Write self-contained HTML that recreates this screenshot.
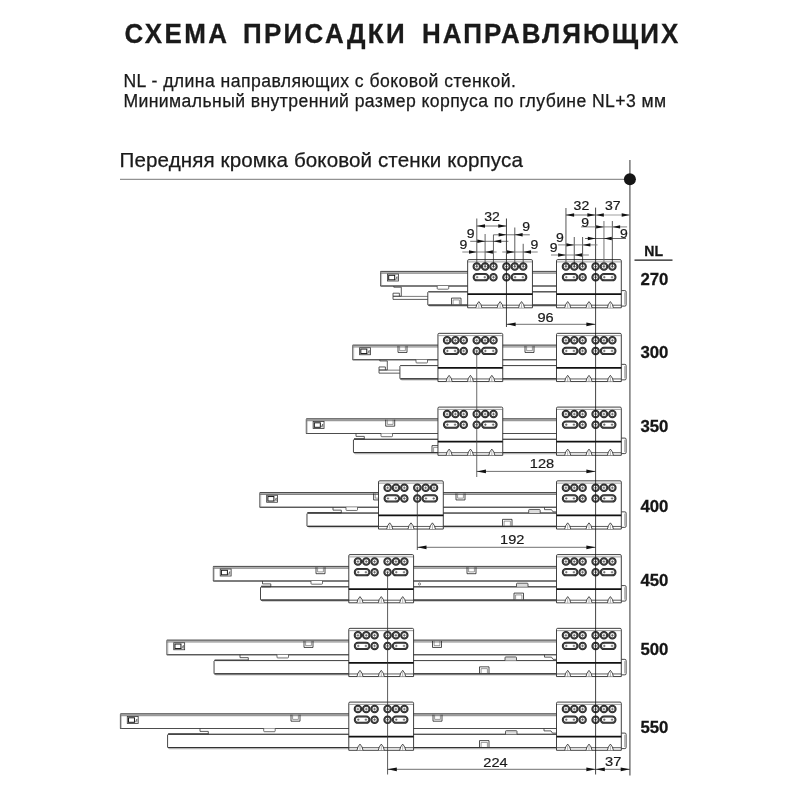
<!DOCTYPE html>
<html lang="ru"><head><meta charset="utf-8"><title>Схема присадки направляющих</title>
<style>html,body{margin:0;padding:0;background:#fff}svg{display:block;will-change:transform;filter:grayscale(1)}</style></head>
<body>
<svg width="800" height="800" viewBox="0 0 800 800" font-family="'Liberation Sans', sans-serif">
<rect width="800" height="800" fill="#fff"/>
<text transform="translate(0,42.8) scale(0.955,1)" font-size="27.2" font-weight="bold" fill="#1a1a1a" stroke="#1a1a1a" stroke-width="0.3"><tspan x="130.34" letter-spacing="2.581">СХЕМА</tspan> <tspan x="254.47" letter-spacing="2.416">ПРИСАДКИ</tspan> <tspan x="441.91" letter-spacing="2.149">НАПРАВЛЯЮЩИХ</tspan></text>
<text transform="translate(123.46,86.60) scale(1,1)" font-size="17.6" font-weight="normal" letter-spacing="0.444" fill="#1a1a1a" stroke="#1a1a1a" stroke-width="0.25">NL - длина направляющих с боковой стенкой.</text>
<text transform="translate(123.46,106.60) scale(1,1)" font-size="17.6" font-weight="normal" letter-spacing="0.404" fill="#1a1a1a" stroke="#1a1a1a" stroke-width="0.25">Минимальный внутренний размер корпуса по глубине NL+3 мм</text>
<text transform="translate(119.61,166.70) scale(1,1)" font-size="20.6" font-weight="normal" letter-spacing="0.092" fill="#1a1a1a" stroke="#1a1a1a" stroke-width="0.25">Передняя кромка боковой стенки корпуса</text>
<line x1="120.00" y1="179.30" x2="629.90" y2="179.30" stroke="#777" stroke-width="1.0" />
<line x1="629.90" y1="160.00" x2="629.90" y2="775.40" stroke="#6e6e6e" stroke-width="1.4" />
<circle cx="629.90" cy="179.2" r="6.0" fill="#161616"/>
<path d="M556.50,291.80 H428.39 L427.79,292.40 V304.70 Q427.79,305.10 428.19,305.10 H556.50" fill="#fff" stroke="#333" stroke-width="0.9" stroke-linejoin="round"/>
<line x1="428.39" y1="291.80" x2="556.50" y2="291.80" stroke="#4d4d4d" stroke-width="1.0" />
<line x1="428.39" y1="305.10" x2="556.50" y2="305.10" stroke="#333" stroke-width="1.3" />
<line x1="429.29" y1="306.40" x2="556.50" y2="306.40" stroke="#999" stroke-width="0.5" />
<path d="M621.30,290.60 H624.90 Q626.10,290.60 626.10,291.80 V304.90 Q626.10,306.10 624.90,306.10 H621.30" fill="#fff" stroke="#333" stroke-width="0.9" stroke-linejoin="round"/>
<line x1="624.50" y1="292.30" x2="624.50" y2="304.60" stroke="#777" stroke-width="0.5" />
<path d="M556.50,271.60 H380.59 V286.00 H556.50" fill="#fff" stroke="#333" stroke-width="0.8" stroke-linejoin="round"/>
<line x1="380.59" y1="271.40" x2="556.50" y2="271.40" stroke="#3a3a3a" stroke-width="0.9" />
<line x1="380.59" y1="273.20" x2="556.50" y2="273.20" stroke="#555" stroke-width="0.8" />
<line x1="380.59" y1="272.30" x2="556.50" y2="272.30" stroke="#aaa" stroke-width="1.0" />
<line x1="380.59" y1="286.00" x2="556.50" y2="286.00" stroke="#4d4d4d" stroke-width="1.1" />
<line x1="381.59" y1="271.60" x2="381.59" y2="286.00" stroke="#888" stroke-width="0.5" />
<rect x="387.49" y="274.00" width="10.90" height="7.00" rx="0" fill="none" stroke="#333" stroke-width="0.8"/>
<rect x="388.69" y="275.30" width="6.00" height="4.50" rx="0" fill="none" stroke="#1a1a1a" stroke-width="1.0"/>
<path d="M395.49,279.90 L397.09,276.60 V279.90" fill="none" stroke="#333" stroke-width="0.6" stroke-linejoin="round"/>
<path d="M393.80,286.00 V287.20 H401.30 V296.20 H393.00 V299.40 H427.79" fill="none" stroke="#333" stroke-width="0.8" stroke-linejoin="round"/>
<path d="M393.00,296.20 V293.20 H399.40 V296.20" fill="none" stroke="#333" stroke-width="0.8" stroke-linejoin="round"/>
<line x1="393.00" y1="296.40" x2="427.79" y2="296.40" stroke="#444" stroke-width="0.7" />
<path d="M437.20,286.00 V288.40 Q437.20,289.20 438.00,289.20 H447.90 Q448.70,289.20 448.70,288.40 V286.00" fill="#fff" stroke="#333" stroke-width="0.7" stroke-linejoin="round"/>
<path d="M451.50,304.60 V298.10 H461.00 V304.60" fill="none" stroke="#222" stroke-width="0.8" stroke-linejoin="round"/>
<path d="M453.10,304.60 V299.90 H459.40 V304.60" fill="none" stroke="#555" stroke-width="0.6" stroke-linejoin="round"/>
<path d="M467.65,307.80 V260.80 Q467.65,259.60 468.85,259.60 H531.25 Q532.45,259.60 532.45,260.80 V307.80 Z" fill="#fff" stroke="#2a2a2a" stroke-width="0.9"/>
<line x1="468.15" y1="261.90" x2="531.95" y2="261.90" stroke="#555" stroke-width="0.6" />
<line x1="467.65" y1="294.10" x2="532.45" y2="294.10" stroke="#111" stroke-width="1.6" />
<line x1="467.65" y1="305.20" x2="532.45" y2="305.20" stroke="#4a4a4a" stroke-width="0.9" />
<path d="M475.85,307.80 L476.85,304.40 L478.85,301.60 L480.85,304.40 L481.85,307.80" fill="#fff" stroke="#222" stroke-width="0.8" stroke-linejoin="round"/>
<line x1="478.85" y1="303.40" x2="478.85" y2="307.80" stroke="#666" stroke-width="0.5" />
<path d="M497.15,307.80 L498.15,304.40 L500.15,301.60 L502.15,304.40 L503.15,307.80" fill="#fff" stroke="#222" stroke-width="0.8" stroke-linejoin="round"/>
<line x1="500.15" y1="303.40" x2="500.15" y2="307.80" stroke="#666" stroke-width="0.5" />
<path d="M518.55,307.80 L519.55,304.40 L521.55,301.60 L523.55,304.40 L524.55,307.80" fill="#fff" stroke="#222" stroke-width="0.8" stroke-linejoin="round"/>
<line x1="521.55" y1="303.40" x2="521.55" y2="307.80" stroke="#666" stroke-width="0.5" />
<circle cx="476.80" cy="266.60" r="3.25" fill="#fff" stroke="#262626" stroke-width="2.0"/>
<circle cx="476.80" cy="266.60" r="3.05" fill="none" stroke="#6a6a6a" stroke-width="0.45"/>
<line x1="475.30" y1="266.60" x2="478.30" y2="266.60" stroke="#333" stroke-width="0.6" />
<line x1="476.80" y1="265.10" x2="476.80" y2="268.10" stroke="#333" stroke-width="0.6" />
<circle cx="485.10" cy="266.60" r="3.25" fill="#fff" stroke="#262626" stroke-width="2.0"/>
<circle cx="485.10" cy="266.60" r="3.05" fill="none" stroke="#6a6a6a" stroke-width="0.45"/>
<line x1="483.60" y1="266.60" x2="486.60" y2="266.60" stroke="#333" stroke-width="0.6" />
<line x1="485.10" y1="265.10" x2="485.10" y2="268.10" stroke="#333" stroke-width="0.6" />
<circle cx="493.45" cy="266.60" r="3.25" fill="#fff" stroke="#262626" stroke-width="2.0"/>
<circle cx="493.45" cy="266.60" r="3.05" fill="none" stroke="#6a6a6a" stroke-width="0.45"/>
<line x1="491.95" y1="266.60" x2="494.95" y2="266.60" stroke="#333" stroke-width="0.6" />
<line x1="493.45" y1="265.10" x2="493.45" y2="268.10" stroke="#333" stroke-width="0.6" />
<circle cx="506.45" cy="266.60" r="3.25" fill="#fff" stroke="#262626" stroke-width="2.0"/>
<circle cx="506.45" cy="266.60" r="3.05" fill="none" stroke="#6a6a6a" stroke-width="0.45"/>
<line x1="504.95" y1="266.60" x2="507.95" y2="266.60" stroke="#333" stroke-width="0.6" />
<line x1="506.45" y1="265.10" x2="506.45" y2="268.10" stroke="#333" stroke-width="0.6" />
<circle cx="514.80" cy="266.60" r="3.25" fill="#fff" stroke="#262626" stroke-width="2.0"/>
<circle cx="514.80" cy="266.60" r="3.05" fill="none" stroke="#6a6a6a" stroke-width="0.45"/>
<line x1="513.30" y1="266.60" x2="516.30" y2="266.60" stroke="#333" stroke-width="0.6" />
<line x1="514.80" y1="265.10" x2="514.80" y2="268.10" stroke="#333" stroke-width="0.6" />
<circle cx="523.20" cy="266.60" r="3.25" fill="#fff" stroke="#262626" stroke-width="2.0"/>
<circle cx="523.20" cy="266.60" r="3.05" fill="none" stroke="#6a6a6a" stroke-width="0.45"/>
<line x1="521.70" y1="266.60" x2="524.70" y2="266.60" stroke="#333" stroke-width="0.6" />
<line x1="523.20" y1="265.10" x2="523.20" y2="268.10" stroke="#333" stroke-width="0.6" />
<rect x="473.65" y="274.05" width="14.60" height="6.3" rx="3.15" fill="#fff" stroke="#262626" stroke-width="2.0"/>
<rect x="473.75" y="274.15" width="14.40" height="6.1" rx="3.05" fill="none" stroke="#6a6a6a" stroke-width="0.45"/>
<line x1="475.80" y1="277.20" x2="478.40" y2="277.20" stroke="#333" stroke-width="0.6" />
<line x1="477.10" y1="275.90" x2="477.10" y2="278.50" stroke="#333" stroke-width="0.6" />
<line x1="483.50" y1="277.20" x2="486.10" y2="277.20" stroke="#333" stroke-width="0.6" />
<line x1="484.80" y1="275.90" x2="484.80" y2="278.50" stroke="#333" stroke-width="0.6" />
<circle cx="493.45" cy="277.20" r="3.25" fill="#fff" stroke="#262626" stroke-width="2.0"/>
<circle cx="493.45" cy="277.20" r="3.05" fill="none" stroke="#6a6a6a" stroke-width="0.45"/>
<line x1="491.95" y1="277.20" x2="494.95" y2="277.20" stroke="#333" stroke-width="0.6" />
<line x1="493.45" y1="275.70" x2="493.45" y2="278.70" stroke="#333" stroke-width="0.6" />
<circle cx="506.45" cy="277.20" r="3.25" fill="#fff" stroke="#262626" stroke-width="2.0"/>
<circle cx="506.45" cy="277.20" r="3.05" fill="none" stroke="#6a6a6a" stroke-width="0.45"/>
<line x1="504.95" y1="277.20" x2="507.95" y2="277.20" stroke="#333" stroke-width="0.6" />
<line x1="506.45" y1="275.70" x2="506.45" y2="278.70" stroke="#333" stroke-width="0.6" />
<rect x="511.65" y="274.05" width="14.70" height="6.3" rx="3.15" fill="#fff" stroke="#262626" stroke-width="2.0"/>
<rect x="511.75" y="274.15" width="14.50" height="6.1" rx="3.05" fill="none" stroke="#6a6a6a" stroke-width="0.45"/>
<line x1="513.80" y1="277.20" x2="516.40" y2="277.20" stroke="#333" stroke-width="0.6" />
<line x1="515.10" y1="275.90" x2="515.10" y2="278.50" stroke="#333" stroke-width="0.6" />
<line x1="521.60" y1="277.20" x2="524.20" y2="277.20" stroke="#333" stroke-width="0.6" />
<line x1="522.90" y1="275.90" x2="522.90" y2="278.50" stroke="#333" stroke-width="0.6" />
<path d="M556.50,307.80 V260.80 Q556.50,259.60 557.70,259.60 H620.10 Q621.30,259.60 621.30,260.80 V307.80 Z" fill="#fff" stroke="#2a2a2a" stroke-width="0.9"/>
<line x1="557.00" y1="261.90" x2="620.80" y2="261.90" stroke="#555" stroke-width="0.6" />
<line x1="556.50" y1="294.10" x2="621.30" y2="294.10" stroke="#111" stroke-width="1.6" />
<line x1="556.50" y1="305.20" x2="621.30" y2="305.20" stroke="#4a4a4a" stroke-width="0.9" />
<path d="M564.70,307.80 L565.70,304.40 L567.70,301.60 L569.70,304.40 L570.70,307.80" fill="#fff" stroke="#222" stroke-width="0.8" stroke-linejoin="round"/>
<line x1="567.70" y1="303.40" x2="567.70" y2="307.80" stroke="#666" stroke-width="0.5" />
<path d="M586.00,307.80 L587.00,304.40 L589.00,301.60 L591.00,304.40 L592.00,307.80" fill="#fff" stroke="#222" stroke-width="0.8" stroke-linejoin="round"/>
<line x1="589.00" y1="303.40" x2="589.00" y2="307.80" stroke="#666" stroke-width="0.5" />
<path d="M607.40,307.80 L608.40,304.40 L610.40,301.60 L612.40,304.40 L613.40,307.80" fill="#fff" stroke="#222" stroke-width="0.8" stroke-linejoin="round"/>
<line x1="610.40" y1="303.40" x2="610.40" y2="307.80" stroke="#666" stroke-width="0.5" />
<circle cx="565.95" cy="266.60" r="3.25" fill="#fff" stroke="#262626" stroke-width="2.0"/>
<circle cx="565.95" cy="266.60" r="3.05" fill="none" stroke="#6a6a6a" stroke-width="0.45"/>
<line x1="564.45" y1="266.60" x2="567.45" y2="266.60" stroke="#333" stroke-width="0.6" />
<line x1="565.95" y1="265.10" x2="565.95" y2="268.10" stroke="#333" stroke-width="0.6" />
<circle cx="574.25" cy="266.60" r="3.25" fill="#fff" stroke="#262626" stroke-width="2.0"/>
<circle cx="574.25" cy="266.60" r="3.05" fill="none" stroke="#6a6a6a" stroke-width="0.45"/>
<line x1="572.75" y1="266.60" x2="575.75" y2="266.60" stroke="#333" stroke-width="0.6" />
<line x1="574.25" y1="265.10" x2="574.25" y2="268.10" stroke="#333" stroke-width="0.6" />
<circle cx="582.60" cy="266.60" r="3.25" fill="#fff" stroke="#262626" stroke-width="2.0"/>
<circle cx="582.60" cy="266.60" r="3.05" fill="none" stroke="#6a6a6a" stroke-width="0.45"/>
<line x1="581.10" y1="266.60" x2="584.10" y2="266.60" stroke="#333" stroke-width="0.6" />
<line x1="582.60" y1="265.10" x2="582.60" y2="268.10" stroke="#333" stroke-width="0.6" />
<circle cx="595.60" cy="266.60" r="3.25" fill="#fff" stroke="#262626" stroke-width="2.0"/>
<circle cx="595.60" cy="266.60" r="3.05" fill="none" stroke="#6a6a6a" stroke-width="0.45"/>
<line x1="594.10" y1="266.60" x2="597.10" y2="266.60" stroke="#333" stroke-width="0.6" />
<line x1="595.60" y1="265.10" x2="595.60" y2="268.10" stroke="#333" stroke-width="0.6" />
<circle cx="603.95" cy="266.60" r="3.25" fill="#fff" stroke="#262626" stroke-width="2.0"/>
<circle cx="603.95" cy="266.60" r="3.05" fill="none" stroke="#6a6a6a" stroke-width="0.45"/>
<line x1="602.45" y1="266.60" x2="605.45" y2="266.60" stroke="#333" stroke-width="0.6" />
<line x1="603.95" y1="265.10" x2="603.95" y2="268.10" stroke="#333" stroke-width="0.6" />
<circle cx="612.35" cy="266.60" r="3.25" fill="#fff" stroke="#262626" stroke-width="2.0"/>
<circle cx="612.35" cy="266.60" r="3.05" fill="none" stroke="#6a6a6a" stroke-width="0.45"/>
<line x1="610.85" y1="266.60" x2="613.85" y2="266.60" stroke="#333" stroke-width="0.6" />
<line x1="612.35" y1="265.10" x2="612.35" y2="268.10" stroke="#333" stroke-width="0.6" />
<rect x="562.80" y="274.05" width="14.60" height="6.3" rx="3.15" fill="#fff" stroke="#262626" stroke-width="2.0"/>
<rect x="562.90" y="274.15" width="14.40" height="6.1" rx="3.05" fill="none" stroke="#6a6a6a" stroke-width="0.45"/>
<line x1="564.95" y1="277.20" x2="567.55" y2="277.20" stroke="#333" stroke-width="0.6" />
<line x1="566.25" y1="275.90" x2="566.25" y2="278.50" stroke="#333" stroke-width="0.6" />
<line x1="572.65" y1="277.20" x2="575.25" y2="277.20" stroke="#333" stroke-width="0.6" />
<line x1="573.95" y1="275.90" x2="573.95" y2="278.50" stroke="#333" stroke-width="0.6" />
<circle cx="582.60" cy="277.20" r="3.25" fill="#fff" stroke="#262626" stroke-width="2.0"/>
<circle cx="582.60" cy="277.20" r="3.05" fill="none" stroke="#6a6a6a" stroke-width="0.45"/>
<line x1="581.10" y1="277.20" x2="584.10" y2="277.20" stroke="#333" stroke-width="0.6" />
<line x1="582.60" y1="275.70" x2="582.60" y2="278.70" stroke="#333" stroke-width="0.6" />
<circle cx="595.60" cy="277.20" r="3.25" fill="#fff" stroke="#262626" stroke-width="2.0"/>
<circle cx="595.60" cy="277.20" r="3.05" fill="none" stroke="#6a6a6a" stroke-width="0.45"/>
<line x1="594.10" y1="277.20" x2="597.10" y2="277.20" stroke="#333" stroke-width="0.6" />
<line x1="595.60" y1="275.70" x2="595.60" y2="278.70" stroke="#333" stroke-width="0.6" />
<rect x="600.80" y="274.05" width="14.70" height="6.3" rx="3.15" fill="#fff" stroke="#262626" stroke-width="2.0"/>
<rect x="600.90" y="274.15" width="14.50" height="6.1" rx="3.05" fill="none" stroke="#6a6a6a" stroke-width="0.45"/>
<line x1="602.95" y1="277.20" x2="605.55" y2="277.20" stroke="#333" stroke-width="0.6" />
<line x1="604.25" y1="275.90" x2="604.25" y2="278.50" stroke="#333" stroke-width="0.6" />
<line x1="610.75" y1="277.20" x2="613.35" y2="277.20" stroke="#333" stroke-width="0.6" />
<line x1="612.05" y1="275.90" x2="612.05" y2="278.50" stroke="#333" stroke-width="0.6" />
<path d="M556.50,365.55 H400.51 L399.91,366.15 V378.45 Q399.91,378.85 400.31,378.85 H556.50" fill="#fff" stroke="#333" stroke-width="0.9" stroke-linejoin="round"/>
<line x1="400.51" y1="365.55" x2="556.50" y2="365.55" stroke="#4d4d4d" stroke-width="1.0" />
<line x1="400.51" y1="378.85" x2="556.50" y2="378.85" stroke="#333" stroke-width="1.3" />
<line x1="401.41" y1="380.15" x2="556.50" y2="380.15" stroke="#999" stroke-width="0.5" />
<path d="M621.30,364.35 H624.90 Q626.10,364.35 626.10,365.55 V378.65 Q626.10,379.85 624.90,379.85 H621.30" fill="#fff" stroke="#333" stroke-width="0.9" stroke-linejoin="round"/>
<line x1="624.50" y1="366.05" x2="624.50" y2="378.35" stroke="#777" stroke-width="0.5" />
<path d="M556.50,345.35 H352.71 V359.75 H556.50" fill="#fff" stroke="#333" stroke-width="0.8" stroke-linejoin="round"/>
<line x1="352.71" y1="345.15" x2="556.50" y2="345.15" stroke="#3a3a3a" stroke-width="0.9" />
<line x1="352.71" y1="346.95" x2="556.50" y2="346.95" stroke="#555" stroke-width="0.8" />
<line x1="352.71" y1="346.05" x2="556.50" y2="346.05" stroke="#aaa" stroke-width="1.0" />
<line x1="352.71" y1="359.75" x2="556.50" y2="359.75" stroke="#4d4d4d" stroke-width="1.1" />
<line x1="353.71" y1="345.35" x2="353.71" y2="359.75" stroke="#888" stroke-width="0.5" />
<rect x="359.61" y="347.75" width="10.90" height="7.00" rx="0" fill="none" stroke="#333" stroke-width="0.8"/>
<rect x="360.81" y="349.05" width="6.00" height="4.50" rx="0" fill="none" stroke="#1a1a1a" stroke-width="1.0"/>
<path d="M367.61,353.65 L369.21,350.35 V353.65" fill="none" stroke="#333" stroke-width="0.6" stroke-linejoin="round"/>
<path d="M379.80,359.75 V360.95 H387.30 V369.95 H379.00 V373.15 H399.91" fill="none" stroke="#333" stroke-width="0.8" stroke-linejoin="round"/>
<path d="M379.00,369.95 V366.95 H385.40 V369.95" fill="none" stroke="#333" stroke-width="0.8" stroke-linejoin="round"/>
<line x1="379.00" y1="370.15" x2="399.91" y2="370.15" stroke="#444" stroke-width="0.7" />
<path d="M398.00,345.95 V352.45 H407.00 V345.95" fill="none" stroke="#222" stroke-width="0.8" stroke-linejoin="round"/>
<path d="M399.60,345.95 V350.65 H405.40 V345.95" fill="none" stroke="#555" stroke-width="0.6" stroke-linejoin="round"/>
<path d="M416.00,359.75 V362.15 Q416.00,362.95 416.80,362.95 H426.70 Q427.50,362.95 427.50,362.15 V359.75" fill="#fff" stroke="#333" stroke-width="0.7" stroke-linejoin="round"/>
<path d="M525.00,345.95 V352.45 H534.00 V345.95" fill="none" stroke="#222" stroke-width="0.8" stroke-linejoin="round"/>
<path d="M526.60,345.95 V350.65 H532.40 V345.95" fill="none" stroke="#555" stroke-width="0.6" stroke-linejoin="round"/>
<path d="M437.94,381.55 V334.55 Q437.94,333.35 439.14,333.35 H501.54 Q502.74,333.35 502.74,334.55 V381.55 Z" fill="#fff" stroke="#2a2a2a" stroke-width="0.9"/>
<line x1="438.44" y1="335.65" x2="502.24" y2="335.65" stroke="#555" stroke-width="0.6" />
<line x1="437.94" y1="367.85" x2="502.74" y2="367.85" stroke="#111" stroke-width="1.6" />
<line x1="437.94" y1="378.95" x2="502.74" y2="378.95" stroke="#4a4a4a" stroke-width="0.9" />
<path d="M446.14,381.55 L447.14,378.15 L449.14,375.35 L451.14,378.15 L452.14,381.55" fill="#fff" stroke="#222" stroke-width="0.8" stroke-linejoin="round"/>
<line x1="449.14" y1="377.15" x2="449.14" y2="381.55" stroke="#666" stroke-width="0.5" />
<path d="M467.44,381.55 L468.44,378.15 L470.44,375.35 L472.44,378.15 L473.44,381.55" fill="#fff" stroke="#222" stroke-width="0.8" stroke-linejoin="round"/>
<line x1="470.44" y1="377.15" x2="470.44" y2="381.55" stroke="#666" stroke-width="0.5" />
<path d="M488.84,381.55 L489.84,378.15 L491.84,375.35 L493.84,378.15 L494.84,381.55" fill="#fff" stroke="#222" stroke-width="0.8" stroke-linejoin="round"/>
<line x1="491.84" y1="377.15" x2="491.84" y2="381.55" stroke="#666" stroke-width="0.5" />
<circle cx="447.09" cy="340.35" r="3.25" fill="#fff" stroke="#262626" stroke-width="2.0"/>
<circle cx="447.09" cy="340.35" r="3.05" fill="none" stroke="#6a6a6a" stroke-width="0.45"/>
<line x1="445.59" y1="340.35" x2="448.59" y2="340.35" stroke="#333" stroke-width="0.6" />
<line x1="447.09" y1="338.85" x2="447.09" y2="341.85" stroke="#333" stroke-width="0.6" />
<circle cx="455.39" cy="340.35" r="3.25" fill="#fff" stroke="#262626" stroke-width="2.0"/>
<circle cx="455.39" cy="340.35" r="3.05" fill="none" stroke="#6a6a6a" stroke-width="0.45"/>
<line x1="453.89" y1="340.35" x2="456.89" y2="340.35" stroke="#333" stroke-width="0.6" />
<line x1="455.39" y1="338.85" x2="455.39" y2="341.85" stroke="#333" stroke-width="0.6" />
<circle cx="463.74" cy="340.35" r="3.25" fill="#fff" stroke="#262626" stroke-width="2.0"/>
<circle cx="463.74" cy="340.35" r="3.05" fill="none" stroke="#6a6a6a" stroke-width="0.45"/>
<line x1="462.24" y1="340.35" x2="465.24" y2="340.35" stroke="#333" stroke-width="0.6" />
<line x1="463.74" y1="338.85" x2="463.74" y2="341.85" stroke="#333" stroke-width="0.6" />
<circle cx="476.74" cy="340.35" r="3.25" fill="#fff" stroke="#262626" stroke-width="2.0"/>
<circle cx="476.74" cy="340.35" r="3.05" fill="none" stroke="#6a6a6a" stroke-width="0.45"/>
<line x1="475.24" y1="340.35" x2="478.24" y2="340.35" stroke="#333" stroke-width="0.6" />
<line x1="476.74" y1="338.85" x2="476.74" y2="341.85" stroke="#333" stroke-width="0.6" />
<circle cx="485.09" cy="340.35" r="3.25" fill="#fff" stroke="#262626" stroke-width="2.0"/>
<circle cx="485.09" cy="340.35" r="3.05" fill="none" stroke="#6a6a6a" stroke-width="0.45"/>
<line x1="483.59" y1="340.35" x2="486.59" y2="340.35" stroke="#333" stroke-width="0.6" />
<line x1="485.09" y1="338.85" x2="485.09" y2="341.85" stroke="#333" stroke-width="0.6" />
<circle cx="493.49" cy="340.35" r="3.25" fill="#fff" stroke="#262626" stroke-width="2.0"/>
<circle cx="493.49" cy="340.35" r="3.05" fill="none" stroke="#6a6a6a" stroke-width="0.45"/>
<line x1="491.99" y1="340.35" x2="494.99" y2="340.35" stroke="#333" stroke-width="0.6" />
<line x1="493.49" y1="338.85" x2="493.49" y2="341.85" stroke="#333" stroke-width="0.6" />
<rect x="443.94" y="347.80" width="14.60" height="6.3" rx="3.15" fill="#fff" stroke="#262626" stroke-width="2.0"/>
<rect x="444.04" y="347.90" width="14.40" height="6.1" rx="3.05" fill="none" stroke="#6a6a6a" stroke-width="0.45"/>
<line x1="446.09" y1="350.95" x2="448.69" y2="350.95" stroke="#333" stroke-width="0.6" />
<line x1="447.39" y1="349.65" x2="447.39" y2="352.25" stroke="#333" stroke-width="0.6" />
<line x1="453.79" y1="350.95" x2="456.39" y2="350.95" stroke="#333" stroke-width="0.6" />
<line x1="455.09" y1="349.65" x2="455.09" y2="352.25" stroke="#333" stroke-width="0.6" />
<circle cx="463.74" cy="350.95" r="3.25" fill="#fff" stroke="#262626" stroke-width="2.0"/>
<circle cx="463.74" cy="350.95" r="3.05" fill="none" stroke="#6a6a6a" stroke-width="0.45"/>
<line x1="462.24" y1="350.95" x2="465.24" y2="350.95" stroke="#333" stroke-width="0.6" />
<line x1="463.74" y1="349.45" x2="463.74" y2="352.45" stroke="#333" stroke-width="0.6" />
<circle cx="476.74" cy="350.95" r="3.25" fill="#fff" stroke="#262626" stroke-width="2.0"/>
<circle cx="476.74" cy="350.95" r="3.05" fill="none" stroke="#6a6a6a" stroke-width="0.45"/>
<line x1="475.24" y1="350.95" x2="478.24" y2="350.95" stroke="#333" stroke-width="0.6" />
<line x1="476.74" y1="349.45" x2="476.74" y2="352.45" stroke="#333" stroke-width="0.6" />
<rect x="481.94" y="347.80" width="14.70" height="6.3" rx="3.15" fill="#fff" stroke="#262626" stroke-width="2.0"/>
<rect x="482.04" y="347.90" width="14.50" height="6.1" rx="3.05" fill="none" stroke="#6a6a6a" stroke-width="0.45"/>
<line x1="484.09" y1="350.95" x2="486.69" y2="350.95" stroke="#333" stroke-width="0.6" />
<line x1="485.39" y1="349.65" x2="485.39" y2="352.25" stroke="#333" stroke-width="0.6" />
<line x1="491.89" y1="350.95" x2="494.49" y2="350.95" stroke="#333" stroke-width="0.6" />
<line x1="493.19" y1="349.65" x2="493.19" y2="352.25" stroke="#333" stroke-width="0.6" />
<path d="M556.50,381.55 V334.55 Q556.50,333.35 557.70,333.35 H620.10 Q621.30,333.35 621.30,334.55 V381.55 Z" fill="#fff" stroke="#2a2a2a" stroke-width="0.9"/>
<line x1="557.00" y1="335.65" x2="620.80" y2="335.65" stroke="#555" stroke-width="0.6" />
<line x1="556.50" y1="367.85" x2="621.30" y2="367.85" stroke="#111" stroke-width="1.6" />
<line x1="556.50" y1="378.95" x2="621.30" y2="378.95" stroke="#4a4a4a" stroke-width="0.9" />
<path d="M564.70,381.55 L565.70,378.15 L567.70,375.35 L569.70,378.15 L570.70,381.55" fill="#fff" stroke="#222" stroke-width="0.8" stroke-linejoin="round"/>
<line x1="567.70" y1="377.15" x2="567.70" y2="381.55" stroke="#666" stroke-width="0.5" />
<path d="M586.00,381.55 L587.00,378.15 L589.00,375.35 L591.00,378.15 L592.00,381.55" fill="#fff" stroke="#222" stroke-width="0.8" stroke-linejoin="round"/>
<line x1="589.00" y1="377.15" x2="589.00" y2="381.55" stroke="#666" stroke-width="0.5" />
<path d="M607.40,381.55 L608.40,378.15 L610.40,375.35 L612.40,378.15 L613.40,381.55" fill="#fff" stroke="#222" stroke-width="0.8" stroke-linejoin="round"/>
<line x1="610.40" y1="377.15" x2="610.40" y2="381.55" stroke="#666" stroke-width="0.5" />
<circle cx="565.95" cy="340.35" r="3.25" fill="#fff" stroke="#262626" stroke-width="2.0"/>
<circle cx="565.95" cy="340.35" r="3.05" fill="none" stroke="#6a6a6a" stroke-width="0.45"/>
<line x1="564.45" y1="340.35" x2="567.45" y2="340.35" stroke="#333" stroke-width="0.6" />
<line x1="565.95" y1="338.85" x2="565.95" y2="341.85" stroke="#333" stroke-width="0.6" />
<circle cx="574.25" cy="340.35" r="3.25" fill="#fff" stroke="#262626" stroke-width="2.0"/>
<circle cx="574.25" cy="340.35" r="3.05" fill="none" stroke="#6a6a6a" stroke-width="0.45"/>
<line x1="572.75" y1="340.35" x2="575.75" y2="340.35" stroke="#333" stroke-width="0.6" />
<line x1="574.25" y1="338.85" x2="574.25" y2="341.85" stroke="#333" stroke-width="0.6" />
<circle cx="582.60" cy="340.35" r="3.25" fill="#fff" stroke="#262626" stroke-width="2.0"/>
<circle cx="582.60" cy="340.35" r="3.05" fill="none" stroke="#6a6a6a" stroke-width="0.45"/>
<line x1="581.10" y1="340.35" x2="584.10" y2="340.35" stroke="#333" stroke-width="0.6" />
<line x1="582.60" y1="338.85" x2="582.60" y2="341.85" stroke="#333" stroke-width="0.6" />
<circle cx="595.60" cy="340.35" r="3.25" fill="#fff" stroke="#262626" stroke-width="2.0"/>
<circle cx="595.60" cy="340.35" r="3.05" fill="none" stroke="#6a6a6a" stroke-width="0.45"/>
<line x1="594.10" y1="340.35" x2="597.10" y2="340.35" stroke="#333" stroke-width="0.6" />
<line x1="595.60" y1="338.85" x2="595.60" y2="341.85" stroke="#333" stroke-width="0.6" />
<circle cx="603.95" cy="340.35" r="3.25" fill="#fff" stroke="#262626" stroke-width="2.0"/>
<circle cx="603.95" cy="340.35" r="3.05" fill="none" stroke="#6a6a6a" stroke-width="0.45"/>
<line x1="602.45" y1="340.35" x2="605.45" y2="340.35" stroke="#333" stroke-width="0.6" />
<line x1="603.95" y1="338.85" x2="603.95" y2="341.85" stroke="#333" stroke-width="0.6" />
<circle cx="612.35" cy="340.35" r="3.25" fill="#fff" stroke="#262626" stroke-width="2.0"/>
<circle cx="612.35" cy="340.35" r="3.05" fill="none" stroke="#6a6a6a" stroke-width="0.45"/>
<line x1="610.85" y1="340.35" x2="613.85" y2="340.35" stroke="#333" stroke-width="0.6" />
<line x1="612.35" y1="338.85" x2="612.35" y2="341.85" stroke="#333" stroke-width="0.6" />
<rect x="562.80" y="347.80" width="14.60" height="6.3" rx="3.15" fill="#fff" stroke="#262626" stroke-width="2.0"/>
<rect x="562.90" y="347.90" width="14.40" height="6.1" rx="3.05" fill="none" stroke="#6a6a6a" stroke-width="0.45"/>
<line x1="564.95" y1="350.95" x2="567.55" y2="350.95" stroke="#333" stroke-width="0.6" />
<line x1="566.25" y1="349.65" x2="566.25" y2="352.25" stroke="#333" stroke-width="0.6" />
<line x1="572.65" y1="350.95" x2="575.25" y2="350.95" stroke="#333" stroke-width="0.6" />
<line x1="573.95" y1="349.65" x2="573.95" y2="352.25" stroke="#333" stroke-width="0.6" />
<circle cx="582.60" cy="350.95" r="3.25" fill="#fff" stroke="#262626" stroke-width="2.0"/>
<circle cx="582.60" cy="350.95" r="3.05" fill="none" stroke="#6a6a6a" stroke-width="0.45"/>
<line x1="581.10" y1="350.95" x2="584.10" y2="350.95" stroke="#333" stroke-width="0.6" />
<line x1="582.60" y1="349.45" x2="582.60" y2="352.45" stroke="#333" stroke-width="0.6" />
<circle cx="595.60" cy="350.95" r="3.25" fill="#fff" stroke="#262626" stroke-width="2.0"/>
<circle cx="595.60" cy="350.95" r="3.05" fill="none" stroke="#6a6a6a" stroke-width="0.45"/>
<line x1="594.10" y1="350.95" x2="597.10" y2="350.95" stroke="#333" stroke-width="0.6" />
<line x1="595.60" y1="349.45" x2="595.60" y2="352.45" stroke="#333" stroke-width="0.6" />
<rect x="600.80" y="347.80" width="14.70" height="6.3" rx="3.15" fill="#fff" stroke="#262626" stroke-width="2.0"/>
<rect x="600.90" y="347.90" width="14.50" height="6.1" rx="3.05" fill="none" stroke="#6a6a6a" stroke-width="0.45"/>
<line x1="602.95" y1="350.95" x2="605.55" y2="350.95" stroke="#333" stroke-width="0.6" />
<line x1="604.25" y1="349.65" x2="604.25" y2="352.25" stroke="#333" stroke-width="0.6" />
<line x1="610.75" y1="350.95" x2="613.35" y2="350.95" stroke="#333" stroke-width="0.6" />
<line x1="612.05" y1="349.65" x2="612.05" y2="352.25" stroke="#333" stroke-width="0.6" />
<path d="M556.50,439.30 H354.05 L353.44,439.90 V452.20 Q353.44,452.60 353.84,452.60 H556.50" fill="#fff" stroke="#333" stroke-width="0.9" stroke-linejoin="round"/>
<line x1="354.05" y1="439.30" x2="556.50" y2="439.30" stroke="#4d4d4d" stroke-width="1.0" />
<line x1="354.05" y1="439.00" x2="364.30" y2="439.00" stroke="#444" stroke-width="1.6" />
<line x1="354.05" y1="452.60" x2="556.50" y2="452.60" stroke="#333" stroke-width="1.3" />
<line x1="354.94" y1="453.90" x2="556.50" y2="453.90" stroke="#999" stroke-width="0.5" />
<path d="M621.30,438.10 H624.90 Q626.10,438.10 626.10,439.30 V452.40 Q626.10,453.60 624.90,453.60 H621.30" fill="#fff" stroke="#333" stroke-width="0.9" stroke-linejoin="round"/>
<line x1="624.50" y1="439.80" x2="624.50" y2="452.10" stroke="#777" stroke-width="0.5" />
<path d="M556.50,419.10 H306.25 V433.50 H556.50" fill="#fff" stroke="#333" stroke-width="0.8" stroke-linejoin="round"/>
<line x1="306.25" y1="418.90" x2="556.50" y2="418.90" stroke="#3a3a3a" stroke-width="0.9" />
<line x1="306.25" y1="420.70" x2="556.50" y2="420.70" stroke="#555" stroke-width="0.8" />
<line x1="306.25" y1="419.80" x2="556.50" y2="419.80" stroke="#aaa" stroke-width="1.0" />
<line x1="306.25" y1="433.50" x2="556.50" y2="433.50" stroke="#4d4d4d" stroke-width="1.1" />
<line x1="307.25" y1="419.10" x2="307.25" y2="433.50" stroke="#888" stroke-width="0.5" />
<rect x="313.14" y="421.50" width="10.90" height="7.00" rx="0" fill="none" stroke="#333" stroke-width="0.8"/>
<rect x="314.34" y="422.80" width="6.00" height="4.50" rx="0" fill="none" stroke="#1a1a1a" stroke-width="1.0"/>
<path d="M321.14,427.40 L322.75,424.10 V427.40" fill="none" stroke="#333" stroke-width="0.6" stroke-linejoin="round"/>
<path d="M356.00,433.50 V436.40 H364.30 V439.30" fill="none" stroke="#333" stroke-width="0.8" stroke-linejoin="round"/>
<path d="M385.70,419.70 V426.20 H394.70 V419.70" fill="none" stroke="#222" stroke-width="0.8" stroke-linejoin="round"/>
<path d="M387.30,419.70 V424.40 H393.10 V419.70" fill="none" stroke="#555" stroke-width="0.6" stroke-linejoin="round"/>
<path d="M381.00,433.50 V435.90 Q381.00,436.70 381.80,436.70 H391.70 Q392.50,436.70 392.50,435.90 V433.50" fill="#fff" stroke="#333" stroke-width="0.7" stroke-linejoin="round"/>
<path d="M432.00,452.10 V445.60 H441.50 V452.10" fill="none" stroke="#222" stroke-width="0.8" stroke-linejoin="round"/>
<path d="M433.60,452.10 V447.40 H439.90 V452.10" fill="none" stroke="#555" stroke-width="0.6" stroke-linejoin="round"/>
<path d="M437.94,455.30 V408.30 Q437.94,407.10 439.14,407.10 H501.54 Q502.74,407.10 502.74,408.30 V455.30 Z" fill="#fff" stroke="#2a2a2a" stroke-width="0.9"/>
<line x1="438.44" y1="409.40" x2="502.24" y2="409.40" stroke="#555" stroke-width="0.6" />
<line x1="437.94" y1="441.60" x2="502.74" y2="441.60" stroke="#111" stroke-width="1.6" />
<line x1="437.94" y1="452.70" x2="502.74" y2="452.70" stroke="#4a4a4a" stroke-width="0.9" />
<path d="M446.14,455.30 L447.14,451.90 L449.14,449.10 L451.14,451.90 L452.14,455.30" fill="#fff" stroke="#222" stroke-width="0.8" stroke-linejoin="round"/>
<line x1="449.14" y1="450.90" x2="449.14" y2="455.30" stroke="#666" stroke-width="0.5" />
<path d="M467.44,455.30 L468.44,451.90 L470.44,449.10 L472.44,451.90 L473.44,455.30" fill="#fff" stroke="#222" stroke-width="0.8" stroke-linejoin="round"/>
<line x1="470.44" y1="450.90" x2="470.44" y2="455.30" stroke="#666" stroke-width="0.5" />
<path d="M488.84,455.30 L489.84,451.90 L491.84,449.10 L493.84,451.90 L494.84,455.30" fill="#fff" stroke="#222" stroke-width="0.8" stroke-linejoin="round"/>
<line x1="491.84" y1="450.90" x2="491.84" y2="455.30" stroke="#666" stroke-width="0.5" />
<circle cx="447.09" cy="414.10" r="3.25" fill="#fff" stroke="#262626" stroke-width="2.0"/>
<circle cx="447.09" cy="414.10" r="3.05" fill="none" stroke="#6a6a6a" stroke-width="0.45"/>
<line x1="445.59" y1="414.10" x2="448.59" y2="414.10" stroke="#333" stroke-width="0.6" />
<line x1="447.09" y1="412.60" x2="447.09" y2="415.60" stroke="#333" stroke-width="0.6" />
<circle cx="455.39" cy="414.10" r="3.25" fill="#fff" stroke="#262626" stroke-width="2.0"/>
<circle cx="455.39" cy="414.10" r="3.05" fill="none" stroke="#6a6a6a" stroke-width="0.45"/>
<line x1="453.89" y1="414.10" x2="456.89" y2="414.10" stroke="#333" stroke-width="0.6" />
<line x1="455.39" y1="412.60" x2="455.39" y2="415.60" stroke="#333" stroke-width="0.6" />
<circle cx="463.74" cy="414.10" r="3.25" fill="#fff" stroke="#262626" stroke-width="2.0"/>
<circle cx="463.74" cy="414.10" r="3.05" fill="none" stroke="#6a6a6a" stroke-width="0.45"/>
<line x1="462.24" y1="414.10" x2="465.24" y2="414.10" stroke="#333" stroke-width="0.6" />
<line x1="463.74" y1="412.60" x2="463.74" y2="415.60" stroke="#333" stroke-width="0.6" />
<circle cx="476.74" cy="414.10" r="3.25" fill="#fff" stroke="#262626" stroke-width="2.0"/>
<circle cx="476.74" cy="414.10" r="3.05" fill="none" stroke="#6a6a6a" stroke-width="0.45"/>
<line x1="475.24" y1="414.10" x2="478.24" y2="414.10" stroke="#333" stroke-width="0.6" />
<line x1="476.74" y1="412.60" x2="476.74" y2="415.60" stroke="#333" stroke-width="0.6" />
<circle cx="485.09" cy="414.10" r="3.25" fill="#fff" stroke="#262626" stroke-width="2.0"/>
<circle cx="485.09" cy="414.10" r="3.05" fill="none" stroke="#6a6a6a" stroke-width="0.45"/>
<line x1="483.59" y1="414.10" x2="486.59" y2="414.10" stroke="#333" stroke-width="0.6" />
<line x1="485.09" y1="412.60" x2="485.09" y2="415.60" stroke="#333" stroke-width="0.6" />
<circle cx="493.49" cy="414.10" r="3.25" fill="#fff" stroke="#262626" stroke-width="2.0"/>
<circle cx="493.49" cy="414.10" r="3.05" fill="none" stroke="#6a6a6a" stroke-width="0.45"/>
<line x1="491.99" y1="414.10" x2="494.99" y2="414.10" stroke="#333" stroke-width="0.6" />
<line x1="493.49" y1="412.60" x2="493.49" y2="415.60" stroke="#333" stroke-width="0.6" />
<rect x="443.94" y="421.55" width="14.60" height="6.3" rx="3.15" fill="#fff" stroke="#262626" stroke-width="2.0"/>
<rect x="444.04" y="421.65" width="14.40" height="6.1" rx="3.05" fill="none" stroke="#6a6a6a" stroke-width="0.45"/>
<line x1="446.09" y1="424.70" x2="448.69" y2="424.70" stroke="#333" stroke-width="0.6" />
<line x1="447.39" y1="423.40" x2="447.39" y2="426.00" stroke="#333" stroke-width="0.6" />
<line x1="453.79" y1="424.70" x2="456.39" y2="424.70" stroke="#333" stroke-width="0.6" />
<line x1="455.09" y1="423.40" x2="455.09" y2="426.00" stroke="#333" stroke-width="0.6" />
<circle cx="463.74" cy="424.70" r="3.25" fill="#fff" stroke="#262626" stroke-width="2.0"/>
<circle cx="463.74" cy="424.70" r="3.05" fill="none" stroke="#6a6a6a" stroke-width="0.45"/>
<line x1="462.24" y1="424.70" x2="465.24" y2="424.70" stroke="#333" stroke-width="0.6" />
<line x1="463.74" y1="423.20" x2="463.74" y2="426.20" stroke="#333" stroke-width="0.6" />
<circle cx="476.74" cy="424.70" r="3.25" fill="#fff" stroke="#262626" stroke-width="2.0"/>
<circle cx="476.74" cy="424.70" r="3.05" fill="none" stroke="#6a6a6a" stroke-width="0.45"/>
<line x1="475.24" y1="424.70" x2="478.24" y2="424.70" stroke="#333" stroke-width="0.6" />
<line x1="476.74" y1="423.20" x2="476.74" y2="426.20" stroke="#333" stroke-width="0.6" />
<rect x="481.94" y="421.55" width="14.70" height="6.3" rx="3.15" fill="#fff" stroke="#262626" stroke-width="2.0"/>
<rect x="482.04" y="421.65" width="14.50" height="6.1" rx="3.05" fill="none" stroke="#6a6a6a" stroke-width="0.45"/>
<line x1="484.09" y1="424.70" x2="486.69" y2="424.70" stroke="#333" stroke-width="0.6" />
<line x1="485.39" y1="423.40" x2="485.39" y2="426.00" stroke="#333" stroke-width="0.6" />
<line x1="491.89" y1="424.70" x2="494.49" y2="424.70" stroke="#333" stroke-width="0.6" />
<line x1="493.19" y1="423.40" x2="493.19" y2="426.00" stroke="#333" stroke-width="0.6" />
<path d="M556.50,455.30 V408.30 Q556.50,407.10 557.70,407.10 H620.10 Q621.30,407.10 621.30,408.30 V455.30 Z" fill="#fff" stroke="#2a2a2a" stroke-width="0.9"/>
<line x1="557.00" y1="409.40" x2="620.80" y2="409.40" stroke="#555" stroke-width="0.6" />
<line x1="556.50" y1="441.60" x2="621.30" y2="441.60" stroke="#111" stroke-width="1.6" />
<line x1="556.50" y1="452.70" x2="621.30" y2="452.70" stroke="#4a4a4a" stroke-width="0.9" />
<path d="M564.70,455.30 L565.70,451.90 L567.70,449.10 L569.70,451.90 L570.70,455.30" fill="#fff" stroke="#222" stroke-width="0.8" stroke-linejoin="round"/>
<line x1="567.70" y1="450.90" x2="567.70" y2="455.30" stroke="#666" stroke-width="0.5" />
<path d="M586.00,455.30 L587.00,451.90 L589.00,449.10 L591.00,451.90 L592.00,455.30" fill="#fff" stroke="#222" stroke-width="0.8" stroke-linejoin="round"/>
<line x1="589.00" y1="450.90" x2="589.00" y2="455.30" stroke="#666" stroke-width="0.5" />
<path d="M607.40,455.30 L608.40,451.90 L610.40,449.10 L612.40,451.90 L613.40,455.30" fill="#fff" stroke="#222" stroke-width="0.8" stroke-linejoin="round"/>
<line x1="610.40" y1="450.90" x2="610.40" y2="455.30" stroke="#666" stroke-width="0.5" />
<circle cx="565.95" cy="414.10" r="3.25" fill="#fff" stroke="#262626" stroke-width="2.0"/>
<circle cx="565.95" cy="414.10" r="3.05" fill="none" stroke="#6a6a6a" stroke-width="0.45"/>
<line x1="564.45" y1="414.10" x2="567.45" y2="414.10" stroke="#333" stroke-width="0.6" />
<line x1="565.95" y1="412.60" x2="565.95" y2="415.60" stroke="#333" stroke-width="0.6" />
<circle cx="574.25" cy="414.10" r="3.25" fill="#fff" stroke="#262626" stroke-width="2.0"/>
<circle cx="574.25" cy="414.10" r="3.05" fill="none" stroke="#6a6a6a" stroke-width="0.45"/>
<line x1="572.75" y1="414.10" x2="575.75" y2="414.10" stroke="#333" stroke-width="0.6" />
<line x1="574.25" y1="412.60" x2="574.25" y2="415.60" stroke="#333" stroke-width="0.6" />
<circle cx="582.60" cy="414.10" r="3.25" fill="#fff" stroke="#262626" stroke-width="2.0"/>
<circle cx="582.60" cy="414.10" r="3.05" fill="none" stroke="#6a6a6a" stroke-width="0.45"/>
<line x1="581.10" y1="414.10" x2="584.10" y2="414.10" stroke="#333" stroke-width="0.6" />
<line x1="582.60" y1="412.60" x2="582.60" y2="415.60" stroke="#333" stroke-width="0.6" />
<circle cx="595.60" cy="414.10" r="3.25" fill="#fff" stroke="#262626" stroke-width="2.0"/>
<circle cx="595.60" cy="414.10" r="3.05" fill="none" stroke="#6a6a6a" stroke-width="0.45"/>
<line x1="594.10" y1="414.10" x2="597.10" y2="414.10" stroke="#333" stroke-width="0.6" />
<line x1="595.60" y1="412.60" x2="595.60" y2="415.60" stroke="#333" stroke-width="0.6" />
<circle cx="603.95" cy="414.10" r="3.25" fill="#fff" stroke="#262626" stroke-width="2.0"/>
<circle cx="603.95" cy="414.10" r="3.05" fill="none" stroke="#6a6a6a" stroke-width="0.45"/>
<line x1="602.45" y1="414.10" x2="605.45" y2="414.10" stroke="#333" stroke-width="0.6" />
<line x1="603.95" y1="412.60" x2="603.95" y2="415.60" stroke="#333" stroke-width="0.6" />
<circle cx="612.35" cy="414.10" r="3.25" fill="#fff" stroke="#262626" stroke-width="2.0"/>
<circle cx="612.35" cy="414.10" r="3.05" fill="none" stroke="#6a6a6a" stroke-width="0.45"/>
<line x1="610.85" y1="414.10" x2="613.85" y2="414.10" stroke="#333" stroke-width="0.6" />
<line x1="612.35" y1="412.60" x2="612.35" y2="415.60" stroke="#333" stroke-width="0.6" />
<rect x="562.80" y="421.55" width="14.60" height="6.3" rx="3.15" fill="#fff" stroke="#262626" stroke-width="2.0"/>
<rect x="562.90" y="421.65" width="14.40" height="6.1" rx="3.05" fill="none" stroke="#6a6a6a" stroke-width="0.45"/>
<line x1="564.95" y1="424.70" x2="567.55" y2="424.70" stroke="#333" stroke-width="0.6" />
<line x1="566.25" y1="423.40" x2="566.25" y2="426.00" stroke="#333" stroke-width="0.6" />
<line x1="572.65" y1="424.70" x2="575.25" y2="424.70" stroke="#333" stroke-width="0.6" />
<line x1="573.95" y1="423.40" x2="573.95" y2="426.00" stroke="#333" stroke-width="0.6" />
<circle cx="582.60" cy="424.70" r="3.25" fill="#fff" stroke="#262626" stroke-width="2.0"/>
<circle cx="582.60" cy="424.70" r="3.05" fill="none" stroke="#6a6a6a" stroke-width="0.45"/>
<line x1="581.10" y1="424.70" x2="584.10" y2="424.70" stroke="#333" stroke-width="0.6" />
<line x1="582.60" y1="423.20" x2="582.60" y2="426.20" stroke="#333" stroke-width="0.6" />
<circle cx="595.60" cy="424.70" r="3.25" fill="#fff" stroke="#262626" stroke-width="2.0"/>
<circle cx="595.60" cy="424.70" r="3.05" fill="none" stroke="#6a6a6a" stroke-width="0.45"/>
<line x1="594.10" y1="424.70" x2="597.10" y2="424.70" stroke="#333" stroke-width="0.6" />
<line x1="595.60" y1="423.20" x2="595.60" y2="426.20" stroke="#333" stroke-width="0.6" />
<rect x="600.80" y="421.55" width="14.70" height="6.3" rx="3.15" fill="#fff" stroke="#262626" stroke-width="2.0"/>
<rect x="600.90" y="421.65" width="14.50" height="6.1" rx="3.05" fill="none" stroke="#6a6a6a" stroke-width="0.45"/>
<line x1="602.95" y1="424.70" x2="605.55" y2="424.70" stroke="#333" stroke-width="0.6" />
<line x1="604.25" y1="423.40" x2="604.25" y2="426.00" stroke="#333" stroke-width="0.6" />
<line x1="610.75" y1="424.70" x2="613.35" y2="424.70" stroke="#333" stroke-width="0.6" />
<line x1="612.05" y1="423.40" x2="612.05" y2="426.00" stroke="#333" stroke-width="0.6" />
<path d="M556.50,513.05 H307.58 L306.98,513.65 V525.95 Q306.98,526.35 307.38,526.35 H556.50" fill="#fff" stroke="#333" stroke-width="0.9" stroke-linejoin="round"/>
<line x1="307.58" y1="513.05" x2="556.50" y2="513.05" stroke="#4d4d4d" stroke-width="1.0" />
<line x1="307.58" y1="512.75" x2="341.30" y2="512.75" stroke="#444" stroke-width="1.6" />
<line x1="307.58" y1="526.35" x2="556.50" y2="526.35" stroke="#333" stroke-width="1.3" />
<line x1="308.48" y1="527.65" x2="556.50" y2="527.65" stroke="#999" stroke-width="0.5" />
<path d="M621.30,511.85 H624.90 Q626.10,511.85 626.10,513.05 V526.15 Q626.10,527.35 624.90,527.35 H621.30" fill="#fff" stroke="#333" stroke-width="0.9" stroke-linejoin="round"/>
<line x1="624.50" y1="513.55" x2="624.50" y2="525.85" stroke="#777" stroke-width="0.5" />
<path d="M556.50,492.85 H259.78 V507.25 H556.50" fill="#fff" stroke="#333" stroke-width="0.8" stroke-linejoin="round"/>
<line x1="259.78" y1="492.65" x2="556.50" y2="492.65" stroke="#3a3a3a" stroke-width="0.9" />
<line x1="259.78" y1="494.45" x2="556.50" y2="494.45" stroke="#555" stroke-width="0.8" />
<line x1="259.78" y1="493.55" x2="556.50" y2="493.55" stroke="#aaa" stroke-width="1.0" />
<line x1="259.78" y1="507.25" x2="556.50" y2="507.25" stroke="#4d4d4d" stroke-width="1.1" />
<line x1="260.78" y1="492.85" x2="260.78" y2="507.25" stroke="#888" stroke-width="0.5" />
<rect x="266.68" y="495.25" width="10.90" height="7.00" rx="0" fill="none" stroke="#333" stroke-width="0.8"/>
<rect x="267.88" y="496.55" width="6.00" height="4.50" rx="0" fill="none" stroke="#1a1a1a" stroke-width="1.0"/>
<path d="M274.68,501.15 L276.28,497.85 V501.15" fill="none" stroke="#333" stroke-width="0.6" stroke-linejoin="round"/>
<path d="M333.00,507.25 V510.15 H341.30 V513.05" fill="none" stroke="#333" stroke-width="0.8" stroke-linejoin="round"/>
<path d="M346.00,507.25 V509.65 Q346.00,510.45 346.80,510.45 H356.70 Q357.50,510.45 357.50,509.65 V507.25" fill="#fff" stroke="#333" stroke-width="0.7" stroke-linejoin="round"/>
<path d="M373.60,493.45 V499.95 H382.60 V493.45" fill="none" stroke="#222" stroke-width="0.8" stroke-linejoin="round"/>
<path d="M375.20,493.45 V498.15 H381.00 V493.45" fill="none" stroke="#555" stroke-width="0.6" stroke-linejoin="round"/>
<path d="M456.00,493.45 V499.95 H465.00 V493.45" fill="none" stroke="#222" stroke-width="0.8" stroke-linejoin="round"/>
<path d="M457.60,493.45 V498.15 H463.40 V493.45" fill="none" stroke="#555" stroke-width="0.6" stroke-linejoin="round"/>
<path d="M528.70,513.05 V510.25 Q528.70,509.45 529.50,509.45 H539.40 Q540.20,509.45 540.20,510.25 V513.05" fill="#ddd" stroke="#333" stroke-width="0.8" stroke-linejoin="round"/>
<path d="M544.50,507.25 V509.65 H551.50 L553.00,511.85 H556.50" fill="none" stroke="#333" stroke-width="0.8" stroke-linejoin="round"/>
<path d="M502.50,525.85 V519.35 H512.00 V525.85" fill="none" stroke="#222" stroke-width="0.8" stroke-linejoin="round"/>
<path d="M504.10,525.85 V521.15 H510.40 V525.85" fill="none" stroke="#555" stroke-width="0.6" stroke-linejoin="round"/>
<path d="M378.51,529.05 V482.05 Q378.51,480.85 379.71,480.85 H442.11 Q443.31,480.85 443.31,482.05 V529.05 Z" fill="#fff" stroke="#2a2a2a" stroke-width="0.9"/>
<line x1="379.01" y1="483.15" x2="442.81" y2="483.15" stroke="#555" stroke-width="0.6" />
<line x1="378.51" y1="515.35" x2="443.31" y2="515.35" stroke="#111" stroke-width="1.6" />
<line x1="378.51" y1="526.45" x2="443.31" y2="526.45" stroke="#4a4a4a" stroke-width="0.9" />
<path d="M386.71,529.05 L387.71,525.65 L389.71,522.85 L391.71,525.65 L392.71,529.05" fill="#fff" stroke="#222" stroke-width="0.8" stroke-linejoin="round"/>
<line x1="389.71" y1="524.65" x2="389.71" y2="529.05" stroke="#666" stroke-width="0.5" />
<path d="M408.01,529.05 L409.01,525.65 L411.01,522.85 L413.01,525.65 L414.01,529.05" fill="#fff" stroke="#222" stroke-width="0.8" stroke-linejoin="round"/>
<line x1="411.01" y1="524.65" x2="411.01" y2="529.05" stroke="#666" stroke-width="0.5" />
<path d="M429.41,529.05 L430.41,525.65 L432.41,522.85 L434.41,525.65 L435.41,529.05" fill="#fff" stroke="#222" stroke-width="0.8" stroke-linejoin="round"/>
<line x1="432.41" y1="524.65" x2="432.41" y2="529.05" stroke="#666" stroke-width="0.5" />
<circle cx="387.66" cy="487.85" r="3.25" fill="#fff" stroke="#262626" stroke-width="2.0"/>
<circle cx="387.66" cy="487.85" r="3.05" fill="none" stroke="#6a6a6a" stroke-width="0.45"/>
<line x1="386.16" y1="487.85" x2="389.16" y2="487.85" stroke="#333" stroke-width="0.6" />
<line x1="387.66" y1="486.35" x2="387.66" y2="489.35" stroke="#333" stroke-width="0.6" />
<circle cx="395.96" cy="487.85" r="3.25" fill="#fff" stroke="#262626" stroke-width="2.0"/>
<circle cx="395.96" cy="487.85" r="3.05" fill="none" stroke="#6a6a6a" stroke-width="0.45"/>
<line x1="394.46" y1="487.85" x2="397.46" y2="487.85" stroke="#333" stroke-width="0.6" />
<line x1="395.96" y1="486.35" x2="395.96" y2="489.35" stroke="#333" stroke-width="0.6" />
<circle cx="404.31" cy="487.85" r="3.25" fill="#fff" stroke="#262626" stroke-width="2.0"/>
<circle cx="404.31" cy="487.85" r="3.05" fill="none" stroke="#6a6a6a" stroke-width="0.45"/>
<line x1="402.81" y1="487.85" x2="405.81" y2="487.85" stroke="#333" stroke-width="0.6" />
<line x1="404.31" y1="486.35" x2="404.31" y2="489.35" stroke="#333" stroke-width="0.6" />
<circle cx="417.31" cy="487.85" r="3.25" fill="#fff" stroke="#262626" stroke-width="2.0"/>
<circle cx="417.31" cy="487.85" r="3.05" fill="none" stroke="#6a6a6a" stroke-width="0.45"/>
<line x1="415.81" y1="487.85" x2="418.81" y2="487.85" stroke="#333" stroke-width="0.6" />
<line x1="417.31" y1="486.35" x2="417.31" y2="489.35" stroke="#333" stroke-width="0.6" />
<circle cx="425.66" cy="487.85" r="3.25" fill="#fff" stroke="#262626" stroke-width="2.0"/>
<circle cx="425.66" cy="487.85" r="3.05" fill="none" stroke="#6a6a6a" stroke-width="0.45"/>
<line x1="424.16" y1="487.85" x2="427.16" y2="487.85" stroke="#333" stroke-width="0.6" />
<line x1="425.66" y1="486.35" x2="425.66" y2="489.35" stroke="#333" stroke-width="0.6" />
<circle cx="434.06" cy="487.85" r="3.25" fill="#fff" stroke="#262626" stroke-width="2.0"/>
<circle cx="434.06" cy="487.85" r="3.05" fill="none" stroke="#6a6a6a" stroke-width="0.45"/>
<line x1="432.56" y1="487.85" x2="435.56" y2="487.85" stroke="#333" stroke-width="0.6" />
<line x1="434.06" y1="486.35" x2="434.06" y2="489.35" stroke="#333" stroke-width="0.6" />
<rect x="384.51" y="495.30" width="14.60" height="6.3" rx="3.15" fill="#fff" stroke="#262626" stroke-width="2.0"/>
<rect x="384.61" y="495.40" width="14.40" height="6.1" rx="3.05" fill="none" stroke="#6a6a6a" stroke-width="0.45"/>
<line x1="386.66" y1="498.45" x2="389.26" y2="498.45" stroke="#333" stroke-width="0.6" />
<line x1="387.96" y1="497.15" x2="387.96" y2="499.75" stroke="#333" stroke-width="0.6" />
<line x1="394.36" y1="498.45" x2="396.96" y2="498.45" stroke="#333" stroke-width="0.6" />
<line x1="395.66" y1="497.15" x2="395.66" y2="499.75" stroke="#333" stroke-width="0.6" />
<circle cx="404.31" cy="498.45" r="3.25" fill="#fff" stroke="#262626" stroke-width="2.0"/>
<circle cx="404.31" cy="498.45" r="3.05" fill="none" stroke="#6a6a6a" stroke-width="0.45"/>
<line x1="402.81" y1="498.45" x2="405.81" y2="498.45" stroke="#333" stroke-width="0.6" />
<line x1="404.31" y1="496.95" x2="404.31" y2="499.95" stroke="#333" stroke-width="0.6" />
<circle cx="417.31" cy="498.45" r="3.25" fill="#fff" stroke="#262626" stroke-width="2.0"/>
<circle cx="417.31" cy="498.45" r="3.05" fill="none" stroke="#6a6a6a" stroke-width="0.45"/>
<line x1="415.81" y1="498.45" x2="418.81" y2="498.45" stroke="#333" stroke-width="0.6" />
<line x1="417.31" y1="496.95" x2="417.31" y2="499.95" stroke="#333" stroke-width="0.6" />
<rect x="422.51" y="495.30" width="14.70" height="6.3" rx="3.15" fill="#fff" stroke="#262626" stroke-width="2.0"/>
<rect x="422.61" y="495.40" width="14.50" height="6.1" rx="3.05" fill="none" stroke="#6a6a6a" stroke-width="0.45"/>
<line x1="424.66" y1="498.45" x2="427.26" y2="498.45" stroke="#333" stroke-width="0.6" />
<line x1="425.96" y1="497.15" x2="425.96" y2="499.75" stroke="#333" stroke-width="0.6" />
<line x1="432.46" y1="498.45" x2="435.06" y2="498.45" stroke="#333" stroke-width="0.6" />
<line x1="433.76" y1="497.15" x2="433.76" y2="499.75" stroke="#333" stroke-width="0.6" />
<path d="M556.50,529.05 V482.05 Q556.50,480.85 557.70,480.85 H620.10 Q621.30,480.85 621.30,482.05 V529.05 Z" fill="#fff" stroke="#2a2a2a" stroke-width="0.9"/>
<line x1="557.00" y1="483.15" x2="620.80" y2="483.15" stroke="#555" stroke-width="0.6" />
<line x1="556.50" y1="515.35" x2="621.30" y2="515.35" stroke="#111" stroke-width="1.6" />
<line x1="556.50" y1="526.45" x2="621.30" y2="526.45" stroke="#4a4a4a" stroke-width="0.9" />
<path d="M564.70,529.05 L565.70,525.65 L567.70,522.85 L569.70,525.65 L570.70,529.05" fill="#fff" stroke="#222" stroke-width="0.8" stroke-linejoin="round"/>
<line x1="567.70" y1="524.65" x2="567.70" y2="529.05" stroke="#666" stroke-width="0.5" />
<path d="M586.00,529.05 L587.00,525.65 L589.00,522.85 L591.00,525.65 L592.00,529.05" fill="#fff" stroke="#222" stroke-width="0.8" stroke-linejoin="round"/>
<line x1="589.00" y1="524.65" x2="589.00" y2="529.05" stroke="#666" stroke-width="0.5" />
<path d="M607.40,529.05 L608.40,525.65 L610.40,522.85 L612.40,525.65 L613.40,529.05" fill="#fff" stroke="#222" stroke-width="0.8" stroke-linejoin="round"/>
<line x1="610.40" y1="524.65" x2="610.40" y2="529.05" stroke="#666" stroke-width="0.5" />
<circle cx="565.95" cy="487.85" r="3.25" fill="#fff" stroke="#262626" stroke-width="2.0"/>
<circle cx="565.95" cy="487.85" r="3.05" fill="none" stroke="#6a6a6a" stroke-width="0.45"/>
<line x1="564.45" y1="487.85" x2="567.45" y2="487.85" stroke="#333" stroke-width="0.6" />
<line x1="565.95" y1="486.35" x2="565.95" y2="489.35" stroke="#333" stroke-width="0.6" />
<circle cx="574.25" cy="487.85" r="3.25" fill="#fff" stroke="#262626" stroke-width="2.0"/>
<circle cx="574.25" cy="487.85" r="3.05" fill="none" stroke="#6a6a6a" stroke-width="0.45"/>
<line x1="572.75" y1="487.85" x2="575.75" y2="487.85" stroke="#333" stroke-width="0.6" />
<line x1="574.25" y1="486.35" x2="574.25" y2="489.35" stroke="#333" stroke-width="0.6" />
<circle cx="582.60" cy="487.85" r="3.25" fill="#fff" stroke="#262626" stroke-width="2.0"/>
<circle cx="582.60" cy="487.85" r="3.05" fill="none" stroke="#6a6a6a" stroke-width="0.45"/>
<line x1="581.10" y1="487.85" x2="584.10" y2="487.85" stroke="#333" stroke-width="0.6" />
<line x1="582.60" y1="486.35" x2="582.60" y2="489.35" stroke="#333" stroke-width="0.6" />
<circle cx="595.60" cy="487.85" r="3.25" fill="#fff" stroke="#262626" stroke-width="2.0"/>
<circle cx="595.60" cy="487.85" r="3.05" fill="none" stroke="#6a6a6a" stroke-width="0.45"/>
<line x1="594.10" y1="487.85" x2="597.10" y2="487.85" stroke="#333" stroke-width="0.6" />
<line x1="595.60" y1="486.35" x2="595.60" y2="489.35" stroke="#333" stroke-width="0.6" />
<circle cx="603.95" cy="487.85" r="3.25" fill="#fff" stroke="#262626" stroke-width="2.0"/>
<circle cx="603.95" cy="487.85" r="3.05" fill="none" stroke="#6a6a6a" stroke-width="0.45"/>
<line x1="602.45" y1="487.85" x2="605.45" y2="487.85" stroke="#333" stroke-width="0.6" />
<line x1="603.95" y1="486.35" x2="603.95" y2="489.35" stroke="#333" stroke-width="0.6" />
<circle cx="612.35" cy="487.85" r="3.25" fill="#fff" stroke="#262626" stroke-width="2.0"/>
<circle cx="612.35" cy="487.85" r="3.05" fill="none" stroke="#6a6a6a" stroke-width="0.45"/>
<line x1="610.85" y1="487.85" x2="613.85" y2="487.85" stroke="#333" stroke-width="0.6" />
<line x1="612.35" y1="486.35" x2="612.35" y2="489.35" stroke="#333" stroke-width="0.6" />
<rect x="562.80" y="495.30" width="14.60" height="6.3" rx="3.15" fill="#fff" stroke="#262626" stroke-width="2.0"/>
<rect x="562.90" y="495.40" width="14.40" height="6.1" rx="3.05" fill="none" stroke="#6a6a6a" stroke-width="0.45"/>
<line x1="564.95" y1="498.45" x2="567.55" y2="498.45" stroke="#333" stroke-width="0.6" />
<line x1="566.25" y1="497.15" x2="566.25" y2="499.75" stroke="#333" stroke-width="0.6" />
<line x1="572.65" y1="498.45" x2="575.25" y2="498.45" stroke="#333" stroke-width="0.6" />
<line x1="573.95" y1="497.15" x2="573.95" y2="499.75" stroke="#333" stroke-width="0.6" />
<circle cx="582.60" cy="498.45" r="3.25" fill="#fff" stroke="#262626" stroke-width="2.0"/>
<circle cx="582.60" cy="498.45" r="3.05" fill="none" stroke="#6a6a6a" stroke-width="0.45"/>
<line x1="581.10" y1="498.45" x2="584.10" y2="498.45" stroke="#333" stroke-width="0.6" />
<line x1="582.60" y1="496.95" x2="582.60" y2="499.95" stroke="#333" stroke-width="0.6" />
<circle cx="595.60" cy="498.45" r="3.25" fill="#fff" stroke="#262626" stroke-width="2.0"/>
<circle cx="595.60" cy="498.45" r="3.05" fill="none" stroke="#6a6a6a" stroke-width="0.45"/>
<line x1="594.10" y1="498.45" x2="597.10" y2="498.45" stroke="#333" stroke-width="0.6" />
<line x1="595.60" y1="496.95" x2="595.60" y2="499.95" stroke="#333" stroke-width="0.6" />
<rect x="600.80" y="495.30" width="14.70" height="6.3" rx="3.15" fill="#fff" stroke="#262626" stroke-width="2.0"/>
<rect x="600.90" y="495.40" width="14.50" height="6.1" rx="3.05" fill="none" stroke="#6a6a6a" stroke-width="0.45"/>
<line x1="602.95" y1="498.45" x2="605.55" y2="498.45" stroke="#333" stroke-width="0.6" />
<line x1="604.25" y1="497.15" x2="604.25" y2="499.75" stroke="#333" stroke-width="0.6" />
<line x1="610.75" y1="498.45" x2="613.35" y2="498.45" stroke="#333" stroke-width="0.6" />
<line x1="612.05" y1="497.15" x2="612.05" y2="499.75" stroke="#333" stroke-width="0.6" />
<path d="M556.50,586.80 H261.12 L260.51,587.40 V599.70 Q260.51,600.10 260.91,600.10 H556.50" fill="#fff" stroke="#333" stroke-width="0.9" stroke-linejoin="round"/>
<line x1="261.12" y1="586.80" x2="556.50" y2="586.80" stroke="#4d4d4d" stroke-width="1.0" />
<line x1="261.12" y1="586.50" x2="270.80" y2="586.50" stroke="#444" stroke-width="1.6" />
<line x1="261.12" y1="600.10" x2="556.50" y2="600.10" stroke="#333" stroke-width="1.3" />
<line x1="262.01" y1="601.40" x2="556.50" y2="601.40" stroke="#999" stroke-width="0.5" />
<path d="M621.30,585.60 H624.90 Q626.10,585.60 626.10,586.80 V599.90 Q626.10,601.10 624.90,601.10 H621.30" fill="#fff" stroke="#333" stroke-width="0.9" stroke-linejoin="round"/>
<line x1="624.50" y1="587.30" x2="624.50" y2="599.60" stroke="#777" stroke-width="0.5" />
<path d="M556.50,566.60 H213.31 V581.00 H556.50" fill="#fff" stroke="#333" stroke-width="0.8" stroke-linejoin="round"/>
<line x1="213.31" y1="566.40" x2="556.50" y2="566.40" stroke="#3a3a3a" stroke-width="0.9" />
<line x1="213.31" y1="568.20" x2="556.50" y2="568.20" stroke="#555" stroke-width="0.8" />
<line x1="213.31" y1="567.30" x2="556.50" y2="567.30" stroke="#aaa" stroke-width="1.0" />
<line x1="213.31" y1="581.00" x2="556.50" y2="581.00" stroke="#4d4d4d" stroke-width="1.1" />
<line x1="214.31" y1="566.60" x2="214.31" y2="581.00" stroke="#888" stroke-width="0.5" />
<rect x="220.22" y="569.00" width="10.90" height="7.00" rx="0" fill="none" stroke="#333" stroke-width="0.8"/>
<rect x="221.41" y="570.30" width="6.00" height="4.50" rx="0" fill="none" stroke="#1a1a1a" stroke-width="1.0"/>
<path d="M228.22,574.90 L229.81,571.60 V574.90" fill="none" stroke="#333" stroke-width="0.6" stroke-linejoin="round"/>
<path d="M262.50,581.00 V583.90 H270.80 V586.80" fill="none" stroke="#333" stroke-width="0.8" stroke-linejoin="round"/>
<path d="M316.00,567.20 V573.70 H325.00 V567.20" fill="none" stroke="#222" stroke-width="0.8" stroke-linejoin="round"/>
<path d="M317.60,567.20 V571.90 H323.40 V567.20" fill="none" stroke="#555" stroke-width="0.6" stroke-linejoin="round"/>
<path d="M311.00,581.00 V583.40 Q311.00,584.20 311.80,584.20 H321.70 Q322.50,584.20 322.50,583.40 V581.00" fill="#fff" stroke="#333" stroke-width="0.7" stroke-linejoin="round"/>
<path d="M467.00,567.20 V573.70 H476.00 V567.20" fill="none" stroke="#222" stroke-width="0.8" stroke-linejoin="round"/>
<path d="M468.60,567.20 V571.90 H474.40 V567.20" fill="none" stroke="#555" stroke-width="0.6" stroke-linejoin="round"/>
<path d="M516.50,586.80 V584.00 Q516.50,583.20 517.30,583.20 H527.20 Q528.00,583.20 528.00,584.00 V586.80" fill="#ddd" stroke="#333" stroke-width="0.8" stroke-linejoin="round"/>
<path d="M514.00,599.60 V593.10 H523.50 V599.60" fill="none" stroke="#222" stroke-width="0.8" stroke-linejoin="round"/>
<path d="M515.60,599.60 V594.90 H521.90 V599.60" fill="none" stroke="#555" stroke-width="0.6" stroke-linejoin="round"/>
<circle cx="419.50" cy="584.00" r="1.1" fill="none" stroke="#333" stroke-width="0.6"/>
<path d="M348.79,602.80 V555.80 Q348.79,554.60 349.99,554.60 H412.39 Q413.59,554.60 413.59,555.80 V602.80 Z" fill="#fff" stroke="#2a2a2a" stroke-width="0.9"/>
<line x1="349.29" y1="556.90" x2="413.09" y2="556.90" stroke="#555" stroke-width="0.6" />
<line x1="348.79" y1="589.10" x2="413.59" y2="589.10" stroke="#111" stroke-width="1.6" />
<line x1="348.79" y1="600.20" x2="413.59" y2="600.20" stroke="#4a4a4a" stroke-width="0.9" />
<path d="M356.99,602.80 L357.99,599.40 L359.99,596.60 L361.99,599.40 L362.99,602.80" fill="#fff" stroke="#222" stroke-width="0.8" stroke-linejoin="round"/>
<line x1="359.99" y1="598.40" x2="359.99" y2="602.80" stroke="#666" stroke-width="0.5" />
<path d="M378.29,602.80 L379.29,599.40 L381.29,596.60 L383.29,599.40 L384.29,602.80" fill="#fff" stroke="#222" stroke-width="0.8" stroke-linejoin="round"/>
<line x1="381.29" y1="598.40" x2="381.29" y2="602.80" stroke="#666" stroke-width="0.5" />
<path d="M399.69,602.80 L400.69,599.40 L402.69,596.60 L404.69,599.40 L405.69,602.80" fill="#fff" stroke="#222" stroke-width="0.8" stroke-linejoin="round"/>
<line x1="402.69" y1="598.40" x2="402.69" y2="602.80" stroke="#666" stroke-width="0.5" />
<circle cx="357.94" cy="561.60" r="3.25" fill="#fff" stroke="#262626" stroke-width="2.0"/>
<circle cx="357.94" cy="561.60" r="3.05" fill="none" stroke="#6a6a6a" stroke-width="0.45"/>
<line x1="356.44" y1="561.60" x2="359.44" y2="561.60" stroke="#333" stroke-width="0.6" />
<line x1="357.94" y1="560.10" x2="357.94" y2="563.10" stroke="#333" stroke-width="0.6" />
<circle cx="366.24" cy="561.60" r="3.25" fill="#fff" stroke="#262626" stroke-width="2.0"/>
<circle cx="366.24" cy="561.60" r="3.05" fill="none" stroke="#6a6a6a" stroke-width="0.45"/>
<line x1="364.74" y1="561.60" x2="367.74" y2="561.60" stroke="#333" stroke-width="0.6" />
<line x1="366.24" y1="560.10" x2="366.24" y2="563.10" stroke="#333" stroke-width="0.6" />
<circle cx="374.59" cy="561.60" r="3.25" fill="#fff" stroke="#262626" stroke-width="2.0"/>
<circle cx="374.59" cy="561.60" r="3.05" fill="none" stroke="#6a6a6a" stroke-width="0.45"/>
<line x1="373.09" y1="561.60" x2="376.09" y2="561.60" stroke="#333" stroke-width="0.6" />
<line x1="374.59" y1="560.10" x2="374.59" y2="563.10" stroke="#333" stroke-width="0.6" />
<circle cx="387.59" cy="561.60" r="3.25" fill="#fff" stroke="#262626" stroke-width="2.0"/>
<circle cx="387.59" cy="561.60" r="3.05" fill="none" stroke="#6a6a6a" stroke-width="0.45"/>
<line x1="386.09" y1="561.60" x2="389.09" y2="561.60" stroke="#333" stroke-width="0.6" />
<line x1="387.59" y1="560.10" x2="387.59" y2="563.10" stroke="#333" stroke-width="0.6" />
<circle cx="395.94" cy="561.60" r="3.25" fill="#fff" stroke="#262626" stroke-width="2.0"/>
<circle cx="395.94" cy="561.60" r="3.05" fill="none" stroke="#6a6a6a" stroke-width="0.45"/>
<line x1="394.44" y1="561.60" x2="397.44" y2="561.60" stroke="#333" stroke-width="0.6" />
<line x1="395.94" y1="560.10" x2="395.94" y2="563.10" stroke="#333" stroke-width="0.6" />
<circle cx="404.34" cy="561.60" r="3.25" fill="#fff" stroke="#262626" stroke-width="2.0"/>
<circle cx="404.34" cy="561.60" r="3.05" fill="none" stroke="#6a6a6a" stroke-width="0.45"/>
<line x1="402.84" y1="561.60" x2="405.84" y2="561.60" stroke="#333" stroke-width="0.6" />
<line x1="404.34" y1="560.10" x2="404.34" y2="563.10" stroke="#333" stroke-width="0.6" />
<rect x="354.79" y="569.05" width="14.60" height="6.3" rx="3.15" fill="#fff" stroke="#262626" stroke-width="2.0"/>
<rect x="354.89" y="569.15" width="14.40" height="6.1" rx="3.05" fill="none" stroke="#6a6a6a" stroke-width="0.45"/>
<line x1="356.94" y1="572.20" x2="359.54" y2="572.20" stroke="#333" stroke-width="0.6" />
<line x1="358.24" y1="570.90" x2="358.24" y2="573.50" stroke="#333" stroke-width="0.6" />
<line x1="364.64" y1="572.20" x2="367.24" y2="572.20" stroke="#333" stroke-width="0.6" />
<line x1="365.94" y1="570.90" x2="365.94" y2="573.50" stroke="#333" stroke-width="0.6" />
<circle cx="374.59" cy="572.20" r="3.25" fill="#fff" stroke="#262626" stroke-width="2.0"/>
<circle cx="374.59" cy="572.20" r="3.05" fill="none" stroke="#6a6a6a" stroke-width="0.45"/>
<line x1="373.09" y1="572.20" x2="376.09" y2="572.20" stroke="#333" stroke-width="0.6" />
<line x1="374.59" y1="570.70" x2="374.59" y2="573.70" stroke="#333" stroke-width="0.6" />
<circle cx="387.59" cy="572.20" r="3.25" fill="#fff" stroke="#262626" stroke-width="2.0"/>
<circle cx="387.59" cy="572.20" r="3.05" fill="none" stroke="#6a6a6a" stroke-width="0.45"/>
<line x1="386.09" y1="572.20" x2="389.09" y2="572.20" stroke="#333" stroke-width="0.6" />
<line x1="387.59" y1="570.70" x2="387.59" y2="573.70" stroke="#333" stroke-width="0.6" />
<rect x="392.79" y="569.05" width="14.70" height="6.3" rx="3.15" fill="#fff" stroke="#262626" stroke-width="2.0"/>
<rect x="392.89" y="569.15" width="14.50" height="6.1" rx="3.05" fill="none" stroke="#6a6a6a" stroke-width="0.45"/>
<line x1="394.94" y1="572.20" x2="397.54" y2="572.20" stroke="#333" stroke-width="0.6" />
<line x1="396.24" y1="570.90" x2="396.24" y2="573.50" stroke="#333" stroke-width="0.6" />
<line x1="402.74" y1="572.20" x2="405.34" y2="572.20" stroke="#333" stroke-width="0.6" />
<line x1="404.04" y1="570.90" x2="404.04" y2="573.50" stroke="#333" stroke-width="0.6" />
<path d="M556.50,602.80 V555.80 Q556.50,554.60 557.70,554.60 H620.10 Q621.30,554.60 621.30,555.80 V602.80 Z" fill="#fff" stroke="#2a2a2a" stroke-width="0.9"/>
<line x1="557.00" y1="556.90" x2="620.80" y2="556.90" stroke="#555" stroke-width="0.6" />
<line x1="556.50" y1="589.10" x2="621.30" y2="589.10" stroke="#111" stroke-width="1.6" />
<line x1="556.50" y1="600.20" x2="621.30" y2="600.20" stroke="#4a4a4a" stroke-width="0.9" />
<path d="M564.70,602.80 L565.70,599.40 L567.70,596.60 L569.70,599.40 L570.70,602.80" fill="#fff" stroke="#222" stroke-width="0.8" stroke-linejoin="round"/>
<line x1="567.70" y1="598.40" x2="567.70" y2="602.80" stroke="#666" stroke-width="0.5" />
<path d="M586.00,602.80 L587.00,599.40 L589.00,596.60 L591.00,599.40 L592.00,602.80" fill="#fff" stroke="#222" stroke-width="0.8" stroke-linejoin="round"/>
<line x1="589.00" y1="598.40" x2="589.00" y2="602.80" stroke="#666" stroke-width="0.5" />
<path d="M607.40,602.80 L608.40,599.40 L610.40,596.60 L612.40,599.40 L613.40,602.80" fill="#fff" stroke="#222" stroke-width="0.8" stroke-linejoin="round"/>
<line x1="610.40" y1="598.40" x2="610.40" y2="602.80" stroke="#666" stroke-width="0.5" />
<circle cx="565.95" cy="561.60" r="3.25" fill="#fff" stroke="#262626" stroke-width="2.0"/>
<circle cx="565.95" cy="561.60" r="3.05" fill="none" stroke="#6a6a6a" stroke-width="0.45"/>
<line x1="564.45" y1="561.60" x2="567.45" y2="561.60" stroke="#333" stroke-width="0.6" />
<line x1="565.95" y1="560.10" x2="565.95" y2="563.10" stroke="#333" stroke-width="0.6" />
<circle cx="574.25" cy="561.60" r="3.25" fill="#fff" stroke="#262626" stroke-width="2.0"/>
<circle cx="574.25" cy="561.60" r="3.05" fill="none" stroke="#6a6a6a" stroke-width="0.45"/>
<line x1="572.75" y1="561.60" x2="575.75" y2="561.60" stroke="#333" stroke-width="0.6" />
<line x1="574.25" y1="560.10" x2="574.25" y2="563.10" stroke="#333" stroke-width="0.6" />
<circle cx="582.60" cy="561.60" r="3.25" fill="#fff" stroke="#262626" stroke-width="2.0"/>
<circle cx="582.60" cy="561.60" r="3.05" fill="none" stroke="#6a6a6a" stroke-width="0.45"/>
<line x1="581.10" y1="561.60" x2="584.10" y2="561.60" stroke="#333" stroke-width="0.6" />
<line x1="582.60" y1="560.10" x2="582.60" y2="563.10" stroke="#333" stroke-width="0.6" />
<circle cx="595.60" cy="561.60" r="3.25" fill="#fff" stroke="#262626" stroke-width="2.0"/>
<circle cx="595.60" cy="561.60" r="3.05" fill="none" stroke="#6a6a6a" stroke-width="0.45"/>
<line x1="594.10" y1="561.60" x2="597.10" y2="561.60" stroke="#333" stroke-width="0.6" />
<line x1="595.60" y1="560.10" x2="595.60" y2="563.10" stroke="#333" stroke-width="0.6" />
<circle cx="603.95" cy="561.60" r="3.25" fill="#fff" stroke="#262626" stroke-width="2.0"/>
<circle cx="603.95" cy="561.60" r="3.05" fill="none" stroke="#6a6a6a" stroke-width="0.45"/>
<line x1="602.45" y1="561.60" x2="605.45" y2="561.60" stroke="#333" stroke-width="0.6" />
<line x1="603.95" y1="560.10" x2="603.95" y2="563.10" stroke="#333" stroke-width="0.6" />
<circle cx="612.35" cy="561.60" r="3.25" fill="#fff" stroke="#262626" stroke-width="2.0"/>
<circle cx="612.35" cy="561.60" r="3.05" fill="none" stroke="#6a6a6a" stroke-width="0.45"/>
<line x1="610.85" y1="561.60" x2="613.85" y2="561.60" stroke="#333" stroke-width="0.6" />
<line x1="612.35" y1="560.10" x2="612.35" y2="563.10" stroke="#333" stroke-width="0.6" />
<rect x="562.80" y="569.05" width="14.60" height="6.3" rx="3.15" fill="#fff" stroke="#262626" stroke-width="2.0"/>
<rect x="562.90" y="569.15" width="14.40" height="6.1" rx="3.05" fill="none" stroke="#6a6a6a" stroke-width="0.45"/>
<line x1="564.95" y1="572.20" x2="567.55" y2="572.20" stroke="#333" stroke-width="0.6" />
<line x1="566.25" y1="570.90" x2="566.25" y2="573.50" stroke="#333" stroke-width="0.6" />
<line x1="572.65" y1="572.20" x2="575.25" y2="572.20" stroke="#333" stroke-width="0.6" />
<line x1="573.95" y1="570.90" x2="573.95" y2="573.50" stroke="#333" stroke-width="0.6" />
<circle cx="582.60" cy="572.20" r="3.25" fill="#fff" stroke="#262626" stroke-width="2.0"/>
<circle cx="582.60" cy="572.20" r="3.05" fill="none" stroke="#6a6a6a" stroke-width="0.45"/>
<line x1="581.10" y1="572.20" x2="584.10" y2="572.20" stroke="#333" stroke-width="0.6" />
<line x1="582.60" y1="570.70" x2="582.60" y2="573.70" stroke="#333" stroke-width="0.6" />
<circle cx="595.60" cy="572.20" r="3.25" fill="#fff" stroke="#262626" stroke-width="2.0"/>
<circle cx="595.60" cy="572.20" r="3.05" fill="none" stroke="#6a6a6a" stroke-width="0.45"/>
<line x1="594.10" y1="572.20" x2="597.10" y2="572.20" stroke="#333" stroke-width="0.6" />
<line x1="595.60" y1="570.70" x2="595.60" y2="573.70" stroke="#333" stroke-width="0.6" />
<rect x="600.80" y="569.05" width="14.70" height="6.3" rx="3.15" fill="#fff" stroke="#262626" stroke-width="2.0"/>
<rect x="600.90" y="569.15" width="14.50" height="6.1" rx="3.05" fill="none" stroke="#6a6a6a" stroke-width="0.45"/>
<line x1="602.95" y1="572.20" x2="605.55" y2="572.20" stroke="#333" stroke-width="0.6" />
<line x1="604.25" y1="570.90" x2="604.25" y2="573.50" stroke="#333" stroke-width="0.6" />
<line x1="610.75" y1="572.20" x2="613.35" y2="572.20" stroke="#333" stroke-width="0.6" />
<line x1="612.05" y1="570.90" x2="612.05" y2="573.50" stroke="#333" stroke-width="0.6" />
<path d="M556.50,660.55 H214.65 L214.05,661.15 V673.45 Q214.05,673.85 214.45,673.85 H556.50" fill="#fff" stroke="#333" stroke-width="0.9" stroke-linejoin="round"/>
<line x1="214.65" y1="660.55" x2="556.50" y2="660.55" stroke="#4d4d4d" stroke-width="1.0" />
<line x1="214.65" y1="660.25" x2="248.30" y2="660.25" stroke="#444" stroke-width="1.6" />
<line x1="214.65" y1="673.85" x2="556.50" y2="673.85" stroke="#333" stroke-width="1.3" />
<line x1="215.55" y1="675.15" x2="556.50" y2="675.15" stroke="#999" stroke-width="0.5" />
<path d="M621.30,659.35 H624.90 Q626.10,659.35 626.10,660.55 V673.65 Q626.10,674.85 624.90,674.85 H621.30" fill="#fff" stroke="#333" stroke-width="0.9" stroke-linejoin="round"/>
<line x1="624.50" y1="661.05" x2="624.50" y2="673.35" stroke="#777" stroke-width="0.5" />
<path d="M556.50,640.35 H166.85 V654.75 H556.50" fill="#fff" stroke="#333" stroke-width="0.8" stroke-linejoin="round"/>
<line x1="166.85" y1="640.15" x2="556.50" y2="640.15" stroke="#3a3a3a" stroke-width="0.9" />
<line x1="166.85" y1="641.95" x2="556.50" y2="641.95" stroke="#555" stroke-width="0.8" />
<line x1="166.85" y1="641.05" x2="556.50" y2="641.05" stroke="#aaa" stroke-width="1.0" />
<line x1="166.85" y1="654.75" x2="556.50" y2="654.75" stroke="#4d4d4d" stroke-width="1.1" />
<line x1="167.85" y1="640.35" x2="167.85" y2="654.75" stroke="#888" stroke-width="0.5" />
<rect x="173.75" y="642.75" width="10.90" height="7.00" rx="0" fill="none" stroke="#333" stroke-width="0.8"/>
<rect x="174.95" y="644.05" width="6.00" height="4.50" rx="0" fill="none" stroke="#1a1a1a" stroke-width="1.0"/>
<path d="M181.75,648.65 L183.35,645.35 V648.65" fill="none" stroke="#333" stroke-width="0.6" stroke-linejoin="round"/>
<path d="M240.00,654.75 V657.65 H248.30 V660.55" fill="none" stroke="#333" stroke-width="0.8" stroke-linejoin="round"/>
<path d="M304.00,640.95 V647.45 H313.00 V640.95" fill="none" stroke="#222" stroke-width="0.8" stroke-linejoin="round"/>
<path d="M305.60,640.95 V645.65 H311.40 V640.95" fill="none" stroke="#555" stroke-width="0.6" stroke-linejoin="round"/>
<path d="M277.00,654.75 V657.15 Q277.00,657.95 277.80,657.95 H287.70 Q288.50,657.95 288.50,657.15 V654.75" fill="#fff" stroke="#333" stroke-width="0.7" stroke-linejoin="round"/>
<path d="M432.50,640.95 V647.45 H441.50 V640.95" fill="none" stroke="#222" stroke-width="0.8" stroke-linejoin="round"/>
<path d="M434.10,640.95 V645.65 H439.90 V640.95" fill="none" stroke="#555" stroke-width="0.6" stroke-linejoin="round"/>
<path d="M505.00,660.55 V657.75 Q505.00,656.95 505.80,656.95 H515.70 Q516.50,656.95 516.50,657.75 V660.55" fill="#ddd" stroke="#333" stroke-width="0.8" stroke-linejoin="round"/>
<path d="M544.50,654.75 V657.15 H551.50 L553.00,659.35 H556.50" fill="none" stroke="#333" stroke-width="0.8" stroke-linejoin="round"/>
<path d="M479.50,673.35 V666.85 H489.00 V673.35" fill="none" stroke="#222" stroke-width="0.8" stroke-linejoin="round"/>
<path d="M481.10,673.35 V668.65 H487.40 V673.35" fill="none" stroke="#555" stroke-width="0.6" stroke-linejoin="round"/>
<path d="M348.79,676.55 V629.55 Q348.79,628.35 349.99,628.35 H412.39 Q413.59,628.35 413.59,629.55 V676.55 Z" fill="#fff" stroke="#2a2a2a" stroke-width="0.9"/>
<line x1="349.29" y1="630.65" x2="413.09" y2="630.65" stroke="#555" stroke-width="0.6" />
<line x1="348.79" y1="662.85" x2="413.59" y2="662.85" stroke="#111" stroke-width="1.6" />
<line x1="348.79" y1="673.95" x2="413.59" y2="673.95" stroke="#4a4a4a" stroke-width="0.9" />
<path d="M356.99,676.55 L357.99,673.15 L359.99,670.35 L361.99,673.15 L362.99,676.55" fill="#fff" stroke="#222" stroke-width="0.8" stroke-linejoin="round"/>
<line x1="359.99" y1="672.15" x2="359.99" y2="676.55" stroke="#666" stroke-width="0.5" />
<path d="M378.29,676.55 L379.29,673.15 L381.29,670.35 L383.29,673.15 L384.29,676.55" fill="#fff" stroke="#222" stroke-width="0.8" stroke-linejoin="round"/>
<line x1="381.29" y1="672.15" x2="381.29" y2="676.55" stroke="#666" stroke-width="0.5" />
<path d="M399.69,676.55 L400.69,673.15 L402.69,670.35 L404.69,673.15 L405.69,676.55" fill="#fff" stroke="#222" stroke-width="0.8" stroke-linejoin="round"/>
<line x1="402.69" y1="672.15" x2="402.69" y2="676.55" stroke="#666" stroke-width="0.5" />
<circle cx="357.94" cy="635.35" r="3.25" fill="#fff" stroke="#262626" stroke-width="2.0"/>
<circle cx="357.94" cy="635.35" r="3.05" fill="none" stroke="#6a6a6a" stroke-width="0.45"/>
<line x1="356.44" y1="635.35" x2="359.44" y2="635.35" stroke="#333" stroke-width="0.6" />
<line x1="357.94" y1="633.85" x2="357.94" y2="636.85" stroke="#333" stroke-width="0.6" />
<circle cx="366.24" cy="635.35" r="3.25" fill="#fff" stroke="#262626" stroke-width="2.0"/>
<circle cx="366.24" cy="635.35" r="3.05" fill="none" stroke="#6a6a6a" stroke-width="0.45"/>
<line x1="364.74" y1="635.35" x2="367.74" y2="635.35" stroke="#333" stroke-width="0.6" />
<line x1="366.24" y1="633.85" x2="366.24" y2="636.85" stroke="#333" stroke-width="0.6" />
<circle cx="374.59" cy="635.35" r="3.25" fill="#fff" stroke="#262626" stroke-width="2.0"/>
<circle cx="374.59" cy="635.35" r="3.05" fill="none" stroke="#6a6a6a" stroke-width="0.45"/>
<line x1="373.09" y1="635.35" x2="376.09" y2="635.35" stroke="#333" stroke-width="0.6" />
<line x1="374.59" y1="633.85" x2="374.59" y2="636.85" stroke="#333" stroke-width="0.6" />
<circle cx="387.59" cy="635.35" r="3.25" fill="#fff" stroke="#262626" stroke-width="2.0"/>
<circle cx="387.59" cy="635.35" r="3.05" fill="none" stroke="#6a6a6a" stroke-width="0.45"/>
<line x1="386.09" y1="635.35" x2="389.09" y2="635.35" stroke="#333" stroke-width="0.6" />
<line x1="387.59" y1="633.85" x2="387.59" y2="636.85" stroke="#333" stroke-width="0.6" />
<circle cx="395.94" cy="635.35" r="3.25" fill="#fff" stroke="#262626" stroke-width="2.0"/>
<circle cx="395.94" cy="635.35" r="3.05" fill="none" stroke="#6a6a6a" stroke-width="0.45"/>
<line x1="394.44" y1="635.35" x2="397.44" y2="635.35" stroke="#333" stroke-width="0.6" />
<line x1="395.94" y1="633.85" x2="395.94" y2="636.85" stroke="#333" stroke-width="0.6" />
<circle cx="404.34" cy="635.35" r="3.25" fill="#fff" stroke="#262626" stroke-width="2.0"/>
<circle cx="404.34" cy="635.35" r="3.05" fill="none" stroke="#6a6a6a" stroke-width="0.45"/>
<line x1="402.84" y1="635.35" x2="405.84" y2="635.35" stroke="#333" stroke-width="0.6" />
<line x1="404.34" y1="633.85" x2="404.34" y2="636.85" stroke="#333" stroke-width="0.6" />
<rect x="354.79" y="642.80" width="14.60" height="6.3" rx="3.15" fill="#fff" stroke="#262626" stroke-width="2.0"/>
<rect x="354.89" y="642.90" width="14.40" height="6.1" rx="3.05" fill="none" stroke="#6a6a6a" stroke-width="0.45"/>
<line x1="356.94" y1="645.95" x2="359.54" y2="645.95" stroke="#333" stroke-width="0.6" />
<line x1="358.24" y1="644.65" x2="358.24" y2="647.25" stroke="#333" stroke-width="0.6" />
<line x1="364.64" y1="645.95" x2="367.24" y2="645.95" stroke="#333" stroke-width="0.6" />
<line x1="365.94" y1="644.65" x2="365.94" y2="647.25" stroke="#333" stroke-width="0.6" />
<circle cx="374.59" cy="645.95" r="3.25" fill="#fff" stroke="#262626" stroke-width="2.0"/>
<circle cx="374.59" cy="645.95" r="3.05" fill="none" stroke="#6a6a6a" stroke-width="0.45"/>
<line x1="373.09" y1="645.95" x2="376.09" y2="645.95" stroke="#333" stroke-width="0.6" />
<line x1="374.59" y1="644.45" x2="374.59" y2="647.45" stroke="#333" stroke-width="0.6" />
<circle cx="387.59" cy="645.95" r="3.25" fill="#fff" stroke="#262626" stroke-width="2.0"/>
<circle cx="387.59" cy="645.95" r="3.05" fill="none" stroke="#6a6a6a" stroke-width="0.45"/>
<line x1="386.09" y1="645.95" x2="389.09" y2="645.95" stroke="#333" stroke-width="0.6" />
<line x1="387.59" y1="644.45" x2="387.59" y2="647.45" stroke="#333" stroke-width="0.6" />
<rect x="392.79" y="642.80" width="14.70" height="6.3" rx="3.15" fill="#fff" stroke="#262626" stroke-width="2.0"/>
<rect x="392.89" y="642.90" width="14.50" height="6.1" rx="3.05" fill="none" stroke="#6a6a6a" stroke-width="0.45"/>
<line x1="394.94" y1="645.95" x2="397.54" y2="645.95" stroke="#333" stroke-width="0.6" />
<line x1="396.24" y1="644.65" x2="396.24" y2="647.25" stroke="#333" stroke-width="0.6" />
<line x1="402.74" y1="645.95" x2="405.34" y2="645.95" stroke="#333" stroke-width="0.6" />
<line x1="404.04" y1="644.65" x2="404.04" y2="647.25" stroke="#333" stroke-width="0.6" />
<path d="M556.50,676.55 V629.55 Q556.50,628.35 557.70,628.35 H620.10 Q621.30,628.35 621.30,629.55 V676.55 Z" fill="#fff" stroke="#2a2a2a" stroke-width="0.9"/>
<line x1="557.00" y1="630.65" x2="620.80" y2="630.65" stroke="#555" stroke-width="0.6" />
<line x1="556.50" y1="662.85" x2="621.30" y2="662.85" stroke="#111" stroke-width="1.6" />
<line x1="556.50" y1="673.95" x2="621.30" y2="673.95" stroke="#4a4a4a" stroke-width="0.9" />
<path d="M564.70,676.55 L565.70,673.15 L567.70,670.35 L569.70,673.15 L570.70,676.55" fill="#fff" stroke="#222" stroke-width="0.8" stroke-linejoin="round"/>
<line x1="567.70" y1="672.15" x2="567.70" y2="676.55" stroke="#666" stroke-width="0.5" />
<path d="M586.00,676.55 L587.00,673.15 L589.00,670.35 L591.00,673.15 L592.00,676.55" fill="#fff" stroke="#222" stroke-width="0.8" stroke-linejoin="round"/>
<line x1="589.00" y1="672.15" x2="589.00" y2="676.55" stroke="#666" stroke-width="0.5" />
<path d="M607.40,676.55 L608.40,673.15 L610.40,670.35 L612.40,673.15 L613.40,676.55" fill="#fff" stroke="#222" stroke-width="0.8" stroke-linejoin="round"/>
<line x1="610.40" y1="672.15" x2="610.40" y2="676.55" stroke="#666" stroke-width="0.5" />
<circle cx="565.95" cy="635.35" r="3.25" fill="#fff" stroke="#262626" stroke-width="2.0"/>
<circle cx="565.95" cy="635.35" r="3.05" fill="none" stroke="#6a6a6a" stroke-width="0.45"/>
<line x1="564.45" y1="635.35" x2="567.45" y2="635.35" stroke="#333" stroke-width="0.6" />
<line x1="565.95" y1="633.85" x2="565.95" y2="636.85" stroke="#333" stroke-width="0.6" />
<circle cx="574.25" cy="635.35" r="3.25" fill="#fff" stroke="#262626" stroke-width="2.0"/>
<circle cx="574.25" cy="635.35" r="3.05" fill="none" stroke="#6a6a6a" stroke-width="0.45"/>
<line x1="572.75" y1="635.35" x2="575.75" y2="635.35" stroke="#333" stroke-width="0.6" />
<line x1="574.25" y1="633.85" x2="574.25" y2="636.85" stroke="#333" stroke-width="0.6" />
<circle cx="582.60" cy="635.35" r="3.25" fill="#fff" stroke="#262626" stroke-width="2.0"/>
<circle cx="582.60" cy="635.35" r="3.05" fill="none" stroke="#6a6a6a" stroke-width="0.45"/>
<line x1="581.10" y1="635.35" x2="584.10" y2="635.35" stroke="#333" stroke-width="0.6" />
<line x1="582.60" y1="633.85" x2="582.60" y2="636.85" stroke="#333" stroke-width="0.6" />
<circle cx="595.60" cy="635.35" r="3.25" fill="#fff" stroke="#262626" stroke-width="2.0"/>
<circle cx="595.60" cy="635.35" r="3.05" fill="none" stroke="#6a6a6a" stroke-width="0.45"/>
<line x1="594.10" y1="635.35" x2="597.10" y2="635.35" stroke="#333" stroke-width="0.6" />
<line x1="595.60" y1="633.85" x2="595.60" y2="636.85" stroke="#333" stroke-width="0.6" />
<circle cx="603.95" cy="635.35" r="3.25" fill="#fff" stroke="#262626" stroke-width="2.0"/>
<circle cx="603.95" cy="635.35" r="3.05" fill="none" stroke="#6a6a6a" stroke-width="0.45"/>
<line x1="602.45" y1="635.35" x2="605.45" y2="635.35" stroke="#333" stroke-width="0.6" />
<line x1="603.95" y1="633.85" x2="603.95" y2="636.85" stroke="#333" stroke-width="0.6" />
<circle cx="612.35" cy="635.35" r="3.25" fill="#fff" stroke="#262626" stroke-width="2.0"/>
<circle cx="612.35" cy="635.35" r="3.05" fill="none" stroke="#6a6a6a" stroke-width="0.45"/>
<line x1="610.85" y1="635.35" x2="613.85" y2="635.35" stroke="#333" stroke-width="0.6" />
<line x1="612.35" y1="633.85" x2="612.35" y2="636.85" stroke="#333" stroke-width="0.6" />
<rect x="562.80" y="642.80" width="14.60" height="6.3" rx="3.15" fill="#fff" stroke="#262626" stroke-width="2.0"/>
<rect x="562.90" y="642.90" width="14.40" height="6.1" rx="3.05" fill="none" stroke="#6a6a6a" stroke-width="0.45"/>
<line x1="564.95" y1="645.95" x2="567.55" y2="645.95" stroke="#333" stroke-width="0.6" />
<line x1="566.25" y1="644.65" x2="566.25" y2="647.25" stroke="#333" stroke-width="0.6" />
<line x1="572.65" y1="645.95" x2="575.25" y2="645.95" stroke="#333" stroke-width="0.6" />
<line x1="573.95" y1="644.65" x2="573.95" y2="647.25" stroke="#333" stroke-width="0.6" />
<circle cx="582.60" cy="645.95" r="3.25" fill="#fff" stroke="#262626" stroke-width="2.0"/>
<circle cx="582.60" cy="645.95" r="3.05" fill="none" stroke="#6a6a6a" stroke-width="0.45"/>
<line x1="581.10" y1="645.95" x2="584.10" y2="645.95" stroke="#333" stroke-width="0.6" />
<line x1="582.60" y1="644.45" x2="582.60" y2="647.45" stroke="#333" stroke-width="0.6" />
<circle cx="595.60" cy="645.95" r="3.25" fill="#fff" stroke="#262626" stroke-width="2.0"/>
<circle cx="595.60" cy="645.95" r="3.05" fill="none" stroke="#6a6a6a" stroke-width="0.45"/>
<line x1="594.10" y1="645.95" x2="597.10" y2="645.95" stroke="#333" stroke-width="0.6" />
<line x1="595.60" y1="644.45" x2="595.60" y2="647.45" stroke="#333" stroke-width="0.6" />
<rect x="600.80" y="642.80" width="14.70" height="6.3" rx="3.15" fill="#fff" stroke="#262626" stroke-width="2.0"/>
<rect x="600.90" y="642.90" width="14.50" height="6.1" rx="3.05" fill="none" stroke="#6a6a6a" stroke-width="0.45"/>
<line x1="602.95" y1="645.95" x2="605.55" y2="645.95" stroke="#333" stroke-width="0.6" />
<line x1="604.25" y1="644.65" x2="604.25" y2="647.25" stroke="#333" stroke-width="0.6" />
<line x1="610.75" y1="645.95" x2="613.35" y2="645.95" stroke="#333" stroke-width="0.6" />
<line x1="612.05" y1="644.65" x2="612.05" y2="647.25" stroke="#333" stroke-width="0.6" />
<path d="M556.50,734.30 H168.18 L167.58,734.90 V747.20 Q167.58,747.60 167.98,747.60 H556.50" fill="#fff" stroke="#333" stroke-width="0.9" stroke-linejoin="round"/>
<line x1="168.18" y1="734.30" x2="556.50" y2="734.30" stroke="#4d4d4d" stroke-width="1.0" />
<line x1="168.18" y1="734.00" x2="208.30" y2="734.00" stroke="#444" stroke-width="1.6" />
<line x1="168.18" y1="747.60" x2="556.50" y2="747.60" stroke="#333" stroke-width="1.3" />
<line x1="169.08" y1="748.90" x2="556.50" y2="748.90" stroke="#999" stroke-width="0.5" />
<path d="M621.30,733.10 H624.90 Q626.10,733.10 626.10,734.30 V747.40 Q626.10,748.60 624.90,748.60 H621.30" fill="#fff" stroke="#333" stroke-width="0.9" stroke-linejoin="round"/>
<line x1="624.50" y1="734.80" x2="624.50" y2="747.10" stroke="#777" stroke-width="0.5" />
<path d="M556.50,714.10 H120.38 V728.50 H556.50" fill="#fff" stroke="#333" stroke-width="0.8" stroke-linejoin="round"/>
<line x1="120.38" y1="713.90" x2="556.50" y2="713.90" stroke="#3a3a3a" stroke-width="0.9" />
<line x1="120.38" y1="715.70" x2="556.50" y2="715.70" stroke="#555" stroke-width="0.8" />
<line x1="120.38" y1="714.80" x2="556.50" y2="714.80" stroke="#aaa" stroke-width="1.0" />
<line x1="120.38" y1="728.50" x2="556.50" y2="728.50" stroke="#4d4d4d" stroke-width="1.1" />
<line x1="121.38" y1="714.10" x2="121.38" y2="728.50" stroke="#888" stroke-width="0.5" />
<rect x="127.28" y="716.50" width="10.90" height="7.00" rx="0" fill="none" stroke="#333" stroke-width="0.8"/>
<rect x="128.48" y="717.80" width="6.00" height="4.50" rx="0" fill="none" stroke="#1a1a1a" stroke-width="1.0"/>
<path d="M135.28,722.40 L136.88,719.10 V722.40" fill="none" stroke="#333" stroke-width="0.6" stroke-linejoin="round"/>
<path d="M200.00,728.50 V731.40 H208.30 V734.30" fill="none" stroke="#333" stroke-width="0.8" stroke-linejoin="round"/>
<path d="M291.00,714.70 V721.20 H300.00 V714.70" fill="none" stroke="#222" stroke-width="0.8" stroke-linejoin="round"/>
<path d="M292.60,714.70 V719.40 H298.40 V714.70" fill="none" stroke="#555" stroke-width="0.6" stroke-linejoin="round"/>
<path d="M263.70,728.50 V730.90 Q263.70,731.70 264.50,731.70 H274.40 Q275.20,731.70 275.20,730.90 V728.50" fill="#fff" stroke="#333" stroke-width="0.7" stroke-linejoin="round"/>
<path d="M433.00,714.70 V721.20 H442.00 V714.70" fill="none" stroke="#222" stroke-width="0.8" stroke-linejoin="round"/>
<path d="M434.60,714.70 V719.40 H440.40 V714.70" fill="none" stroke="#555" stroke-width="0.6" stroke-linejoin="round"/>
<path d="M505.50,734.30 V731.50 Q505.50,730.70 506.30,730.70 H516.20 Q517.00,730.70 517.00,731.50 V734.30" fill="#ddd" stroke="#333" stroke-width="0.8" stroke-linejoin="round"/>
<path d="M544.00,728.50 V730.90 H551.00 L552.50,733.10 H556.50" fill="none" stroke="#333" stroke-width="0.8" stroke-linejoin="round"/>
<path d="M479.50,747.10 V740.60 H489.00 V747.10" fill="none" stroke="#222" stroke-width="0.8" stroke-linejoin="round"/>
<path d="M481.10,747.10 V742.40 H487.40 V747.10" fill="none" stroke="#555" stroke-width="0.6" stroke-linejoin="round"/>
<path d="M348.79,750.30 V703.30 Q348.79,702.10 349.99,702.10 H412.39 Q413.59,702.10 413.59,703.30 V750.30 Z" fill="#fff" stroke="#2a2a2a" stroke-width="0.9"/>
<line x1="349.29" y1="704.40" x2="413.09" y2="704.40" stroke="#555" stroke-width="0.6" />
<line x1="348.79" y1="736.60" x2="413.59" y2="736.60" stroke="#111" stroke-width="1.6" />
<line x1="348.79" y1="747.70" x2="413.59" y2="747.70" stroke="#4a4a4a" stroke-width="0.9" />
<path d="M356.99,750.30 L357.99,746.90 L359.99,744.10 L361.99,746.90 L362.99,750.30" fill="#fff" stroke="#222" stroke-width="0.8" stroke-linejoin="round"/>
<line x1="359.99" y1="745.90" x2="359.99" y2="750.30" stroke="#666" stroke-width="0.5" />
<path d="M378.29,750.30 L379.29,746.90 L381.29,744.10 L383.29,746.90 L384.29,750.30" fill="#fff" stroke="#222" stroke-width="0.8" stroke-linejoin="round"/>
<line x1="381.29" y1="745.90" x2="381.29" y2="750.30" stroke="#666" stroke-width="0.5" />
<path d="M399.69,750.30 L400.69,746.90 L402.69,744.10 L404.69,746.90 L405.69,750.30" fill="#fff" stroke="#222" stroke-width="0.8" stroke-linejoin="round"/>
<line x1="402.69" y1="745.90" x2="402.69" y2="750.30" stroke="#666" stroke-width="0.5" />
<circle cx="357.94" cy="709.10" r="3.25" fill="#fff" stroke="#262626" stroke-width="2.0"/>
<circle cx="357.94" cy="709.10" r="3.05" fill="none" stroke="#6a6a6a" stroke-width="0.45"/>
<line x1="356.44" y1="709.10" x2="359.44" y2="709.10" stroke="#333" stroke-width="0.6" />
<line x1="357.94" y1="707.60" x2="357.94" y2="710.60" stroke="#333" stroke-width="0.6" />
<circle cx="366.24" cy="709.10" r="3.25" fill="#fff" stroke="#262626" stroke-width="2.0"/>
<circle cx="366.24" cy="709.10" r="3.05" fill="none" stroke="#6a6a6a" stroke-width="0.45"/>
<line x1="364.74" y1="709.10" x2="367.74" y2="709.10" stroke="#333" stroke-width="0.6" />
<line x1="366.24" y1="707.60" x2="366.24" y2="710.60" stroke="#333" stroke-width="0.6" />
<circle cx="374.59" cy="709.10" r="3.25" fill="#fff" stroke="#262626" stroke-width="2.0"/>
<circle cx="374.59" cy="709.10" r="3.05" fill="none" stroke="#6a6a6a" stroke-width="0.45"/>
<line x1="373.09" y1="709.10" x2="376.09" y2="709.10" stroke="#333" stroke-width="0.6" />
<line x1="374.59" y1="707.60" x2="374.59" y2="710.60" stroke="#333" stroke-width="0.6" />
<circle cx="387.59" cy="709.10" r="3.25" fill="#fff" stroke="#262626" stroke-width="2.0"/>
<circle cx="387.59" cy="709.10" r="3.05" fill="none" stroke="#6a6a6a" stroke-width="0.45"/>
<line x1="386.09" y1="709.10" x2="389.09" y2="709.10" stroke="#333" stroke-width="0.6" />
<line x1="387.59" y1="707.60" x2="387.59" y2="710.60" stroke="#333" stroke-width="0.6" />
<circle cx="395.94" cy="709.10" r="3.25" fill="#fff" stroke="#262626" stroke-width="2.0"/>
<circle cx="395.94" cy="709.10" r="3.05" fill="none" stroke="#6a6a6a" stroke-width="0.45"/>
<line x1="394.44" y1="709.10" x2="397.44" y2="709.10" stroke="#333" stroke-width="0.6" />
<line x1="395.94" y1="707.60" x2="395.94" y2="710.60" stroke="#333" stroke-width="0.6" />
<circle cx="404.34" cy="709.10" r="3.25" fill="#fff" stroke="#262626" stroke-width="2.0"/>
<circle cx="404.34" cy="709.10" r="3.05" fill="none" stroke="#6a6a6a" stroke-width="0.45"/>
<line x1="402.84" y1="709.10" x2="405.84" y2="709.10" stroke="#333" stroke-width="0.6" />
<line x1="404.34" y1="707.60" x2="404.34" y2="710.60" stroke="#333" stroke-width="0.6" />
<rect x="354.79" y="716.55" width="14.60" height="6.3" rx="3.15" fill="#fff" stroke="#262626" stroke-width="2.0"/>
<rect x="354.89" y="716.65" width="14.40" height="6.1" rx="3.05" fill="none" stroke="#6a6a6a" stroke-width="0.45"/>
<line x1="356.94" y1="719.70" x2="359.54" y2="719.70" stroke="#333" stroke-width="0.6" />
<line x1="358.24" y1="718.40" x2="358.24" y2="721.00" stroke="#333" stroke-width="0.6" />
<line x1="364.64" y1="719.70" x2="367.24" y2="719.70" stroke="#333" stroke-width="0.6" />
<line x1="365.94" y1="718.40" x2="365.94" y2="721.00" stroke="#333" stroke-width="0.6" />
<circle cx="374.59" cy="719.70" r="3.25" fill="#fff" stroke="#262626" stroke-width="2.0"/>
<circle cx="374.59" cy="719.70" r="3.05" fill="none" stroke="#6a6a6a" stroke-width="0.45"/>
<line x1="373.09" y1="719.70" x2="376.09" y2="719.70" stroke="#333" stroke-width="0.6" />
<line x1="374.59" y1="718.20" x2="374.59" y2="721.20" stroke="#333" stroke-width="0.6" />
<circle cx="387.59" cy="719.70" r="3.25" fill="#fff" stroke="#262626" stroke-width="2.0"/>
<circle cx="387.59" cy="719.70" r="3.05" fill="none" stroke="#6a6a6a" stroke-width="0.45"/>
<line x1="386.09" y1="719.70" x2="389.09" y2="719.70" stroke="#333" stroke-width="0.6" />
<line x1="387.59" y1="718.20" x2="387.59" y2="721.20" stroke="#333" stroke-width="0.6" />
<rect x="392.79" y="716.55" width="14.70" height="6.3" rx="3.15" fill="#fff" stroke="#262626" stroke-width="2.0"/>
<rect x="392.89" y="716.65" width="14.50" height="6.1" rx="3.05" fill="none" stroke="#6a6a6a" stroke-width="0.45"/>
<line x1="394.94" y1="719.70" x2="397.54" y2="719.70" stroke="#333" stroke-width="0.6" />
<line x1="396.24" y1="718.40" x2="396.24" y2="721.00" stroke="#333" stroke-width="0.6" />
<line x1="402.74" y1="719.70" x2="405.34" y2="719.70" stroke="#333" stroke-width="0.6" />
<line x1="404.04" y1="718.40" x2="404.04" y2="721.00" stroke="#333" stroke-width="0.6" />
<path d="M556.50,750.30 V703.30 Q556.50,702.10 557.70,702.10 H620.10 Q621.30,702.10 621.30,703.30 V750.30 Z" fill="#fff" stroke="#2a2a2a" stroke-width="0.9"/>
<line x1="557.00" y1="704.40" x2="620.80" y2="704.40" stroke="#555" stroke-width="0.6" />
<line x1="556.50" y1="736.60" x2="621.30" y2="736.60" stroke="#111" stroke-width="1.6" />
<line x1="556.50" y1="747.70" x2="621.30" y2="747.70" stroke="#4a4a4a" stroke-width="0.9" />
<path d="M564.70,750.30 L565.70,746.90 L567.70,744.10 L569.70,746.90 L570.70,750.30" fill="#fff" stroke="#222" stroke-width="0.8" stroke-linejoin="round"/>
<line x1="567.70" y1="745.90" x2="567.70" y2="750.30" stroke="#666" stroke-width="0.5" />
<path d="M586.00,750.30 L587.00,746.90 L589.00,744.10 L591.00,746.90 L592.00,750.30" fill="#fff" stroke="#222" stroke-width="0.8" stroke-linejoin="round"/>
<line x1="589.00" y1="745.90" x2="589.00" y2="750.30" stroke="#666" stroke-width="0.5" />
<path d="M607.40,750.30 L608.40,746.90 L610.40,744.10 L612.40,746.90 L613.40,750.30" fill="#fff" stroke="#222" stroke-width="0.8" stroke-linejoin="round"/>
<line x1="610.40" y1="745.90" x2="610.40" y2="750.30" stroke="#666" stroke-width="0.5" />
<circle cx="565.95" cy="709.10" r="3.25" fill="#fff" stroke="#262626" stroke-width="2.0"/>
<circle cx="565.95" cy="709.10" r="3.05" fill="none" stroke="#6a6a6a" stroke-width="0.45"/>
<line x1="564.45" y1="709.10" x2="567.45" y2="709.10" stroke="#333" stroke-width="0.6" />
<line x1="565.95" y1="707.60" x2="565.95" y2="710.60" stroke="#333" stroke-width="0.6" />
<circle cx="574.25" cy="709.10" r="3.25" fill="#fff" stroke="#262626" stroke-width="2.0"/>
<circle cx="574.25" cy="709.10" r="3.05" fill="none" stroke="#6a6a6a" stroke-width="0.45"/>
<line x1="572.75" y1="709.10" x2="575.75" y2="709.10" stroke="#333" stroke-width="0.6" />
<line x1="574.25" y1="707.60" x2="574.25" y2="710.60" stroke="#333" stroke-width="0.6" />
<circle cx="582.60" cy="709.10" r="3.25" fill="#fff" stroke="#262626" stroke-width="2.0"/>
<circle cx="582.60" cy="709.10" r="3.05" fill="none" stroke="#6a6a6a" stroke-width="0.45"/>
<line x1="581.10" y1="709.10" x2="584.10" y2="709.10" stroke="#333" stroke-width="0.6" />
<line x1="582.60" y1="707.60" x2="582.60" y2="710.60" stroke="#333" stroke-width="0.6" />
<circle cx="595.60" cy="709.10" r="3.25" fill="#fff" stroke="#262626" stroke-width="2.0"/>
<circle cx="595.60" cy="709.10" r="3.05" fill="none" stroke="#6a6a6a" stroke-width="0.45"/>
<line x1="594.10" y1="709.10" x2="597.10" y2="709.10" stroke="#333" stroke-width="0.6" />
<line x1="595.60" y1="707.60" x2="595.60" y2="710.60" stroke="#333" stroke-width="0.6" />
<circle cx="603.95" cy="709.10" r="3.25" fill="#fff" stroke="#262626" stroke-width="2.0"/>
<circle cx="603.95" cy="709.10" r="3.05" fill="none" stroke="#6a6a6a" stroke-width="0.45"/>
<line x1="602.45" y1="709.10" x2="605.45" y2="709.10" stroke="#333" stroke-width="0.6" />
<line x1="603.95" y1="707.60" x2="603.95" y2="710.60" stroke="#333" stroke-width="0.6" />
<circle cx="612.35" cy="709.10" r="3.25" fill="#fff" stroke="#262626" stroke-width="2.0"/>
<circle cx="612.35" cy="709.10" r="3.05" fill="none" stroke="#6a6a6a" stroke-width="0.45"/>
<line x1="610.85" y1="709.10" x2="613.85" y2="709.10" stroke="#333" stroke-width="0.6" />
<line x1="612.35" y1="707.60" x2="612.35" y2="710.60" stroke="#333" stroke-width="0.6" />
<rect x="562.80" y="716.55" width="14.60" height="6.3" rx="3.15" fill="#fff" stroke="#262626" stroke-width="2.0"/>
<rect x="562.90" y="716.65" width="14.40" height="6.1" rx="3.05" fill="none" stroke="#6a6a6a" stroke-width="0.45"/>
<line x1="564.95" y1="719.70" x2="567.55" y2="719.70" stroke="#333" stroke-width="0.6" />
<line x1="566.25" y1="718.40" x2="566.25" y2="721.00" stroke="#333" stroke-width="0.6" />
<line x1="572.65" y1="719.70" x2="575.25" y2="719.70" stroke="#333" stroke-width="0.6" />
<line x1="573.95" y1="718.40" x2="573.95" y2="721.00" stroke="#333" stroke-width="0.6" />
<circle cx="582.60" cy="719.70" r="3.25" fill="#fff" stroke="#262626" stroke-width="2.0"/>
<circle cx="582.60" cy="719.70" r="3.05" fill="none" stroke="#6a6a6a" stroke-width="0.45"/>
<line x1="581.10" y1="719.70" x2="584.10" y2="719.70" stroke="#333" stroke-width="0.6" />
<line x1="582.60" y1="718.20" x2="582.60" y2="721.20" stroke="#333" stroke-width="0.6" />
<circle cx="595.60" cy="719.70" r="3.25" fill="#fff" stroke="#262626" stroke-width="2.0"/>
<circle cx="595.60" cy="719.70" r="3.05" fill="none" stroke="#6a6a6a" stroke-width="0.45"/>
<line x1="594.10" y1="719.70" x2="597.10" y2="719.70" stroke="#333" stroke-width="0.6" />
<line x1="595.60" y1="718.20" x2="595.60" y2="721.20" stroke="#333" stroke-width="0.6" />
<rect x="600.80" y="716.55" width="14.70" height="6.3" rx="3.15" fill="#fff" stroke="#262626" stroke-width="2.0"/>
<rect x="600.90" y="716.65" width="14.50" height="6.1" rx="3.05" fill="none" stroke="#6a6a6a" stroke-width="0.45"/>
<line x1="602.95" y1="719.70" x2="605.55" y2="719.70" stroke="#333" stroke-width="0.6" />
<line x1="604.25" y1="718.40" x2="604.25" y2="721.00" stroke="#333" stroke-width="0.6" />
<line x1="610.75" y1="719.70" x2="613.35" y2="719.70" stroke="#333" stroke-width="0.6" />
<line x1="612.05" y1="718.40" x2="612.05" y2="721.00" stroke="#333" stroke-width="0.6" />
<text transform="translate(653.70,255.50) scale(0.97,1)" font-size="14.5" font-weight="bold" text-anchor="middle" fill="#161616" stroke="#161616" stroke-width="0.3">NL</text>
<line x1="634.50" y1="260.10" x2="672.50" y2="260.10" stroke="#1a1a1a" stroke-width="1.3" />
<text transform="translate(654.40,284.50) scale(0.97,1)" font-size="17.3" font-weight="bold" text-anchor="middle" fill="#161616" stroke="#161616" stroke-width="0.3">270</text>
<text transform="translate(654.40,357.75) scale(0.97,1)" font-size="17.3" font-weight="bold" text-anchor="middle" fill="#161616" stroke="#161616" stroke-width="0.3">300</text>
<text transform="translate(654.40,431.70) scale(0.97,1)" font-size="17.3" font-weight="bold" text-anchor="middle" fill="#161616" stroke="#161616" stroke-width="0.3">350</text>
<text transform="translate(654.40,512.00) scale(0.97,1)" font-size="17.3" font-weight="bold" text-anchor="middle" fill="#161616" stroke="#161616" stroke-width="0.3">400</text>
<text transform="translate(654.40,585.75) scale(0.97,1)" font-size="17.3" font-weight="bold" text-anchor="middle" fill="#161616" stroke="#161616" stroke-width="0.3">450</text>
<text transform="translate(654.40,654.50) scale(0.97,1)" font-size="17.3" font-weight="bold" text-anchor="middle" fill="#161616" stroke="#161616" stroke-width="0.3">500</text>
<text transform="translate(654.40,733.20) scale(0.97,1)" font-size="17.3" font-weight="bold" text-anchor="middle" fill="#161616" stroke="#161616" stroke-width="0.3">550</text>
<line x1="595.60" y1="207.60" x2="595.60" y2="774.50" stroke="#111" stroke-width="0.8" />
<line x1="565.95" y1="208.00" x2="565.95" y2="266.60" stroke="#444" stroke-width="0.9" />
<line x1="574.25" y1="237.00" x2="574.25" y2="266.60" stroke="#111" stroke-width="0.7" />
<line x1="582.60" y1="237.00" x2="582.60" y2="266.60" stroke="#111" stroke-width="0.7" />
<line x1="603.95" y1="221.00" x2="603.95" y2="266.60" stroke="#666" stroke-width="0.9" />
<line x1="612.35" y1="221.00" x2="612.35" y2="266.60" stroke="#111" stroke-width="0.7" />
<line x1="565.95" y1="215.00" x2="595.60" y2="215.00" stroke="#333" stroke-width="0.7" />
<path d="M565.95,215.00 L574.15,213.20 L574.15,216.80 Z" fill="#111"/>
<path d="M595.60,215.00 L587.40,213.20 L587.40,216.80 Z" fill="#111"/>
<line x1="595.60" y1="215.00" x2="629.90" y2="215.00" stroke="#777" stroke-width="0.7" />
<path d="M595.60,215.00 L603.80,213.20 L603.80,216.80 Z" fill="#111"/>
<path d="M629.90,215.00 L621.70,213.20 L621.70,216.80 Z" fill="#111"/>
<text transform="translate(581.38,210.20) scale(1.17,1)" font-size="12.0" text-anchor="middle" fill="#1a1a1a" stroke="#1a1a1a" stroke-width="0.2">32</text>
<text transform="translate(612.80,210.20) scale(1.17,1)" font-size="12.0" text-anchor="middle" fill="#1a1a1a" stroke="#1a1a1a" stroke-width="0.2">37</text>
<line x1="581.00" y1="226.90" x2="627.10" y2="226.90" stroke="#777" stroke-width="0.9" />
<path d="M603.95,226.90 L596.15,225.20 L596.15,228.60 Z" fill="#111"/>
<path d="M612.35,226.90 L620.15,225.20 L620.15,228.60 Z" fill="#111"/>
<text transform="translate(585.20,226.90) scale(1.17,1)" font-size="12.0" text-anchor="middle" fill="#1a1a1a" stroke="#1a1a1a" stroke-width="0.2">9</text>
<line x1="585.10" y1="238.50" x2="626.00" y2="238.50" stroke="#222" stroke-width="0.7" />
<path d="M595.60,238.50 L587.80,236.80 L587.80,240.20 Z" fill="#111"/>
<path d="M603.95,238.50 L611.75,236.80 L611.75,240.20 Z" fill="#111"/>
<text transform="translate(623.80,237.50) scale(1.17,1)" font-size="12.0" text-anchor="middle" fill="#1a1a1a" stroke="#1a1a1a" stroke-width="0.2">9</text>
<line x1="558.10" y1="244.90" x2="597.50" y2="244.90" stroke="#777" stroke-width="0.9" />
<path d="M574.25,244.90 L566.45,243.20 L566.45,246.60 Z" fill="#111"/>
<path d="M582.60,244.90 L590.40,243.20 L590.40,246.60 Z" fill="#111"/>
<text transform="translate(560.00,241.70) scale(1.17,1)" font-size="12.0" text-anchor="middle" fill="#1a1a1a" stroke="#1a1a1a" stroke-width="0.2">9</text>
<line x1="551.00" y1="255.00" x2="588.90" y2="255.00" stroke="#777" stroke-width="0.9" />
<path d="M565.95,255.00 L558.15,253.30 L558.15,256.70 Z" fill="#111"/>
<path d="M574.25,255.00 L582.05,253.30 L582.05,256.70 Z" fill="#111"/>
<text transform="translate(553.60,252.40) scale(1.17,1)" font-size="12.0" text-anchor="middle" fill="#1a1a1a" stroke="#1a1a1a" stroke-width="0.2">9</text>
<line x1="506.45" y1="218.50" x2="506.45" y2="327.00" stroke="#111" stroke-width="0.8" />
<line x1="476.80" y1="218.50" x2="476.80" y2="266.60" stroke="#333" stroke-width="0.8" />
<line x1="485.10" y1="234.00" x2="485.10" y2="266.60" stroke="#222" stroke-width="0.7" />
<line x1="493.45" y1="234.80" x2="493.45" y2="266.60" stroke="#222" stroke-width="0.7" />
<line x1="514.80" y1="227.50" x2="514.80" y2="266.60" stroke="#333" stroke-width="0.8" />
<line x1="523.20" y1="243.80" x2="523.20" y2="266.60" stroke="#333" stroke-width="0.8" />
<line x1="476.80" y1="226.00" x2="506.45" y2="226.00" stroke="#333" stroke-width="0.7" />
<path d="M476.80,226.00 L485.00,224.20 L485.00,227.80 Z" fill="#111"/>
<path d="M506.45,226.00 L498.25,224.20 L498.25,227.80 Z" fill="#111"/>
<text transform="translate(492.10,221.30) scale(1.17,1)" font-size="12.0" text-anchor="middle" fill="#1a1a1a" stroke="#1a1a1a" stroke-width="0.2">32</text>
<line x1="493.45" y1="234.80" x2="529.80" y2="234.80" stroke="#333" stroke-width="0.7" />
<path d="M506.45,234.80 L498.65,233.10 L498.65,236.50 Z" fill="#111"/>
<path d="M514.80,234.80 L522.60,233.10 L522.60,236.50 Z" fill="#111"/>
<text transform="translate(526.10,231.40) scale(1.17,1)" font-size="12.0" text-anchor="middle" fill="#1a1a1a" stroke="#1a1a1a" stroke-width="0.2">9</text>
<line x1="470.20" y1="241.30" x2="508.40" y2="241.30" stroke="#333" stroke-width="0.7" />
<path d="M485.10,241.30 L477.30,239.60 L477.30,243.00 Z" fill="#111"/>
<path d="M493.45,241.30 L501.25,239.60 L501.25,243.00 Z" fill="#111"/>
<text transform="translate(470.75,238.40) scale(1.17,1)" font-size="12.0" text-anchor="middle" fill="#1a1a1a" stroke="#1a1a1a" stroke-width="0.2">9</text>
<line x1="462.30" y1="252.00" x2="496.60" y2="252.00" stroke="#666" stroke-width="0.8" />
<path d="M476.80,252.00 L469.00,250.30 L469.00,253.70 Z" fill="#111"/>
<path d="M485.10,252.00 L492.90,250.30 L492.90,253.70 Z" fill="#111"/>
<text transform="translate(463.40,249.10) scale(1.17,1)" font-size="12.0" text-anchor="middle" fill="#1a1a1a" stroke="#1a1a1a" stroke-width="0.2">9</text>
<line x1="502.25" y1="252.00" x2="537.70" y2="252.00" stroke="#666" stroke-width="0.8" />
<path d="M514.80,252.00 L507.00,250.30 L507.00,253.70 Z" fill="#111"/>
<path d="M523.20,252.00 L531.00,250.30 L531.00,253.70 Z" fill="#111"/>
<text transform="translate(534.30,249.10) scale(1.17,1)" font-size="12.0" text-anchor="middle" fill="#1a1a1a" stroke="#1a1a1a" stroke-width="0.2">9</text>
<line x1="506.45" y1="324.30" x2="595.60" y2="324.30" stroke="#333" stroke-width="0.7" />
<path d="M506.45,324.30 L515.65,322.40 L515.65,326.20 Z" fill="#111"/>
<path d="M595.60,324.30 L586.40,322.40 L586.40,326.20 Z" fill="#111"/>
<text transform="translate(545.60,322.00) scale(1.14,1)" font-size="12.8" text-anchor="middle" fill="#1a1a1a" stroke="#1a1a1a" stroke-width="0.2">96</text>
<line x1="476.74" y1="350.95" x2="476.74" y2="477.00" stroke="#444" stroke-width="0.8" />
<line x1="476.74" y1="471.40" x2="595.60" y2="471.40" stroke="#333" stroke-width="0.7" />
<path d="M476.74,471.40 L485.94,469.50 L485.94,473.30 Z" fill="#111"/>
<path d="M595.60,471.40 L586.40,469.50 L586.40,473.30 Z" fill="#111"/>
<text transform="translate(542.00,468.00) scale(1.14,1)" font-size="12.8" text-anchor="middle" fill="#1a1a1a" stroke="#1a1a1a" stroke-width="0.2">128</text>
<line x1="417.31" y1="487.85" x2="417.31" y2="550.00" stroke="#333" stroke-width="0.8" />
<line x1="417.31" y1="547.30" x2="595.60" y2="547.30" stroke="#333" stroke-width="0.7" />
<path d="M417.31,547.30 L426.51,545.40 L426.51,549.20 Z" fill="#111"/>
<path d="M595.60,547.30 L586.40,545.40 L586.40,549.20 Z" fill="#111"/>
<text transform="translate(512.20,543.50) scale(1.14,1)" font-size="12.8" text-anchor="middle" fill="#1a1a1a" stroke="#1a1a1a" stroke-width="0.2">192</text>
<line x1="387.59" y1="572.20" x2="387.59" y2="774.50" stroke="#333" stroke-width="0.8" />
<line x1="387.59" y1="769.30" x2="595.60" y2="769.30" stroke="#333" stroke-width="0.7" />
<path d="M387.59,769.30 L396.79,767.40 L396.79,771.20 Z" fill="#111"/>
<path d="M595.60,769.30 L586.40,767.40 L586.40,771.20 Z" fill="#111"/>
<text transform="translate(495.50,766.80) scale(1.14,1)" font-size="12.8" text-anchor="middle" fill="#1a1a1a" stroke="#1a1a1a" stroke-width="0.2">224</text>
<line x1="595.60" y1="769.30" x2="629.90" y2="769.30" stroke="#333" stroke-width="0.7" />
<path d="M595.60,769.30 L604.80,767.40 L604.80,771.20 Z" fill="#111"/>
<path d="M629.90,769.30 L620.70,767.40 L620.70,771.20 Z" fill="#111"/>
<text transform="translate(613.20,765.60) scale(1.12,1)" font-size="13.1" text-anchor="middle" fill="#1a1a1a" stroke="#1a1a1a" stroke-width="0.2">37</text>
</svg>
</body></html>
